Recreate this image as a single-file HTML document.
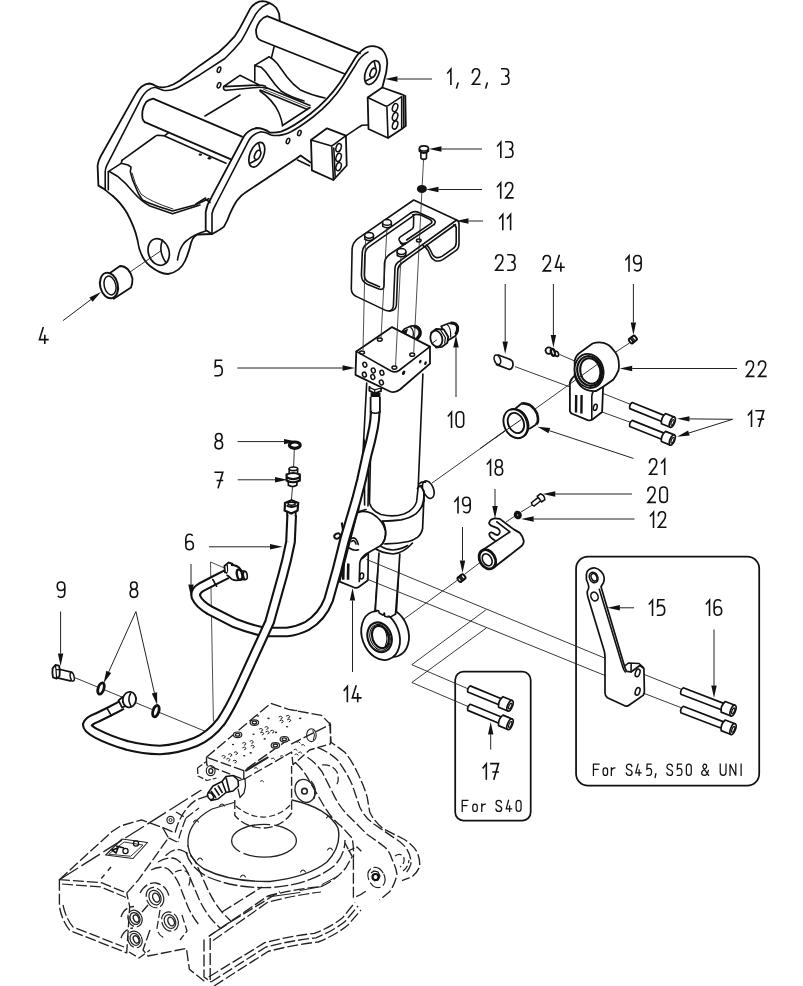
<!DOCTYPE html>
<html><head><meta charset="utf-8"><title>Parts diagram</title>
<style>
html,body{margin:0;padding:0;background:#fff;}
body{width:803px;height:986px;overflow:hidden;font-family:"Liberation Sans",sans-serif;}
svg{display:block;}
text{font-family:"Liberation Sans",sans-serif;fill:#111;}
</style></head><body>
<svg width="803" height="986" viewBox="0 0 803 986">
<rect width="803" height="986" fill="#fff"/>
<g fill="none" stroke="#111" stroke-width="1.6" stroke-linecap="square" stroke-linejoin="miter"><path vector-effect="non-scaling-stroke" transform="translate(447.70,68.80) scale(0.840,0.906)" d="M0,4.6 L3.8,0.4 L3.8,17"/></g>
<g fill="none" stroke="#111" stroke-width="1.6" stroke-linecap="square" stroke-linejoin="miter"><path vector-effect="non-scaling-stroke" transform="translate(472.22,68.80) scale(0.840,0.906)" d="M0.2,4.2 Q0.4,0 4.6,0 Q8.8,0 8.8,4.2 Q8.8,6.6 7,9 L0.4,17 L9,17"/></g>
<g fill="none" stroke="#111" stroke-width="1.6" stroke-linecap="square" stroke-linejoin="miter"><path vector-effect="non-scaling-stroke" transform="translate(501.42,68.80) scale(0.840,0.906)" d="M0.5,0 L4.6,0 Q8.6,0 8.6,4 Q8.6,8 4.2,8 Q9,8 9,12.6 Q9,17 4.6,17 L0.4,17"/></g>
<path d="M458.2,82.4 L456.4,88.6 M487.4,82.4 L485.6,88.6" stroke="#111" stroke-width="1.6" fill="none"/>
<g fill="none" stroke="#111" stroke-width="1.6" stroke-linecap="square" stroke-linejoin="miter"><path vector-effect="non-scaling-stroke" transform="translate(497.62,141.80) scale(0.840,0.906)" d="M0,4.6 L3.8,0.4 L3.8,17"/><path vector-effect="non-scaling-stroke" transform="translate(505.42,141.80) scale(0.840,0.906)" d="M0.5,0 L4.6,0 Q8.6,0 8.6,4 Q8.6,8 4.2,8 Q9,8 9,12.6 Q9,17 4.6,17 L0.4,17"/></g>
<g fill="none" stroke="#111" stroke-width="1.6" stroke-linecap="square" stroke-linejoin="miter"><path vector-effect="non-scaling-stroke" transform="translate(497.52,182.50) scale(0.840,0.906)" d="M0,4.6 L3.8,0.4 L3.8,17"/><path vector-effect="non-scaling-stroke" transform="translate(505.32,182.50) scale(0.840,0.906)" d="M0.2,4.2 Q0.4,0 4.6,0 Q8.8,0 8.8,4.2 Q8.8,6.6 7,9 L0.4,17 L9,17"/></g>
<g fill="none" stroke="#111" stroke-width="1.6" stroke-linecap="square" stroke-linejoin="miter"><path vector-effect="non-scaling-stroke" transform="translate(499.61,214.10) scale(0.840,0.906)" d="M0,4.6 L3.8,0.4 L3.8,17"/><path vector-effect="non-scaling-stroke" transform="translate(507.40,214.10) scale(0.840,0.906)" d="M0,4.6 L3.8,0.4 L3.8,17"/></g>
<g fill="none" stroke="#111" stroke-width="1.6" stroke-linecap="square" stroke-linejoin="miter"><path vector-effect="non-scaling-stroke" transform="translate(495.44,254.80) scale(0.840,0.906)" d="M0.2,4.2 Q0.4,0 4.6,0 Q8.8,0 8.8,4.2 Q8.8,6.6 7,9 L0.4,17 L9,17"/><path vector-effect="non-scaling-stroke" transform="translate(507.60,254.80) scale(0.840,0.906)" d="M0.5,0 L4.6,0 Q8.6,0 8.6,4 Q8.6,8 4.2,8 Q9,8 9,12.6 Q9,17 4.6,17 L0.4,17"/></g>
<g fill="none" stroke="#111" stroke-width="1.6" stroke-linecap="square" stroke-linejoin="miter"><path vector-effect="non-scaling-stroke" transform="translate(543.01,255.50) scale(0.840,0.906)" d="M0.2,4.2 Q0.4,0 4.6,0 Q8.8,0 8.8,4.2 Q8.8,6.6 7,9 L0.4,17 L9,17"/><path vector-effect="non-scaling-stroke" transform="translate(555.17,255.50) scale(0.840,0.906)" d="M4.8,0 L0.4,13 L10.5,13 M6.8,8.6 L6.8,17"/></g>
<g fill="none" stroke="#111" stroke-width="1.6" stroke-linecap="square" stroke-linejoin="miter"><path vector-effect="non-scaling-stroke" transform="translate(625.82,255.50) scale(0.840,0.906)" d="M0,4.6 L3.8,0.4 L3.8,17"/><path vector-effect="non-scaling-stroke" transform="translate(633.62,255.50) scale(0.840,0.906)" d="M1.4,16 Q2.4,17 4.4,17 Q9,17 9,11.6 L9,4.4 Q9,0 4.5,0 Q0,0 0,4.5 Q0,9.4 4.5,9.4 Q7.8,9.4 9,6.6"/></g>
<g fill="none" stroke="#111" stroke-width="1.6" stroke-linecap="square" stroke-linejoin="miter"><path vector-effect="non-scaling-stroke" transform="translate(746.14,361.00) scale(0.840,0.906)" d="M0.2,4.2 Q0.4,0 4.6,0 Q8.8,0 8.8,4.2 Q8.8,6.6 7,9 L0.4,17 L9,17"/><path vector-effect="non-scaling-stroke" transform="translate(758.30,361.00) scale(0.840,0.906)" d="M0.2,4.2 Q0.4,0 4.6,0 Q8.8,0 8.8,4.2 Q8.8,6.6 7,9 L0.4,17 L9,17"/></g>
<g fill="none" stroke="#111" stroke-width="1.6" stroke-linecap="square" stroke-linejoin="miter"><path vector-effect="non-scaling-stroke" transform="translate(748.32,410.80) scale(0.840,0.906)" d="M0,4.6 L3.8,0.4 L3.8,17"/><path vector-effect="non-scaling-stroke" transform="translate(756.12,410.80) scale(0.840,0.906)" d="M0,0 L9,0 L3.6,17 M2.6,9.2 L8.6,9.2"/></g>
<g fill="none" stroke="#111" stroke-width="1.6" stroke-linecap="square" stroke-linejoin="miter"><path vector-effect="non-scaling-stroke" transform="translate(649.32,458.80) scale(0.840,0.906)" d="M0.2,4.2 Q0.4,0 4.6,0 Q8.8,0 8.8,4.2 Q8.8,6.6 7,9 L0.4,17 L9,17"/><path vector-effect="non-scaling-stroke" transform="translate(661.48,458.80) scale(0.840,0.906)" d="M0,4.6 L3.8,0.4 L3.8,17"/></g>
<g fill="none" stroke="#111" stroke-width="1.6" stroke-linecap="square" stroke-linejoin="miter"><path vector-effect="non-scaling-stroke" transform="translate(448.32,411.80) scale(0.840,0.906)" d="M0,4.6 L3.8,0.4 L3.8,17"/><path vector-effect="non-scaling-stroke" transform="translate(456.12,411.80) scale(0.840,0.906)" d="M0,4.4 Q0,0 4.5,0 Q9,0 9,4.4 L9,12.6 Q9,17 4.5,17 Q0,17 0,12.6 Z"/></g>
<g fill="none" stroke="#111" stroke-width="1.6" stroke-linecap="square" stroke-linejoin="miter"><path vector-effect="non-scaling-stroke" transform="translate(214.72,360.30) scale(0.840,0.906)" d="M8,0 L0.9,0 L0.5,7.4 Q2,6.2 4.4,6.2 Q9,6.2 9,11.6 Q9,17 4.4,17 L0.6,17"/></g>
<g fill="none" stroke="#111" stroke-width="1.6" stroke-linecap="square" stroke-linejoin="miter"><path vector-effect="non-scaling-stroke" transform="translate(39.09,327.80) scale(0.840,0.906)" d="M4.8,0 L0.4,13 L10.5,13 M6.8,8.6 L6.8,17"/></g>
<g fill="none" stroke="#111" stroke-width="1.6" stroke-linecap="square" stroke-linejoin="miter"><path vector-effect="non-scaling-stroke" transform="translate(215.02,433.50) scale(0.840,0.906)" d="M4.5,0 Q0.6,0 0.6,4 Q0.6,8 4.5,8 Q8.4,8 8.4,4 Q8.4,0 4.5,0 Z M4.5,8 Q0,8 0,12.5 Q0,17 4.5,17 Q9,17 9,12.5 Q9,8 4.5,8 Z"/></g>
<g fill="none" stroke="#111" stroke-width="1.6" stroke-linecap="square" stroke-linejoin="miter"><path vector-effect="non-scaling-stroke" transform="translate(215.22,472.20) scale(0.840,0.906)" d="M0,0 L9,0 L3.6,17 M2.6,9.2 L8.6,9.2"/></g>
<g fill="none" stroke="#111" stroke-width="1.6" stroke-linecap="square" stroke-linejoin="miter"><path vector-effect="non-scaling-stroke" transform="translate(185.82,534.30) scale(0.840,0.906)" d="M7.6,1 Q6.6,0 4.6,0 Q0,0 0,5.4 L0,12.6 Q0,17 4.5,17 Q9,17 9,12.5 Q9,7.6 4.5,7.6 Q1.2,7.6 0,10.4"/></g>
<g fill="none" stroke="#111" stroke-width="1.6" stroke-linecap="square" stroke-linejoin="miter"><path vector-effect="non-scaling-stroke" transform="translate(57.22,582.00) scale(0.840,0.906)" d="M1.4,16 Q2.4,17 4.4,17 Q9,17 9,11.6 L9,4.4 Q9,0 4.5,0 Q0,0 0,4.5 Q0,9.4 4.5,9.4 Q7.8,9.4 9,6.6"/></g>
<g fill="none" stroke="#111" stroke-width="1.6" stroke-linecap="square" stroke-linejoin="miter"><path vector-effect="non-scaling-stroke" transform="translate(130.12,582.00) scale(0.840,0.906)" d="M4.5,0 Q0.6,0 0.6,4 Q0.6,8 4.5,8 Q8.4,8 8.4,4 Q8.4,0 4.5,0 Z M4.5,8 Q0,8 0,12.5 Q0,17 4.5,17 Q9,17 9,12.5 Q9,8 4.5,8 Z"/></g>
<g fill="none" stroke="#111" stroke-width="1.6" stroke-linecap="square" stroke-linejoin="miter"><path vector-effect="non-scaling-stroke" transform="translate(344.19,686.10) scale(0.840,0.906)" d="M0,4.6 L3.8,0.4 L3.8,17"/><path vector-effect="non-scaling-stroke" transform="translate(351.99,686.10) scale(0.840,0.906)" d="M4.8,0 L0.4,13 L10.5,13 M6.8,8.6 L6.8,17"/></g>
<g fill="none" stroke="#111" stroke-width="1.6" stroke-linecap="square" stroke-linejoin="miter"><path vector-effect="non-scaling-stroke" transform="translate(487.32,459.80) scale(0.840,0.906)" d="M0,4.6 L3.8,0.4 L3.8,17"/><path vector-effect="non-scaling-stroke" transform="translate(495.12,459.80) scale(0.840,0.906)" d="M4.5,0 Q0.6,0 0.6,4 Q0.6,8 4.5,8 Q8.4,8 8.4,4 Q8.4,0 4.5,0 Z M4.5,8 Q0,8 0,12.5 Q0,17 4.5,17 Q9,17 9,12.5 Q9,8 4.5,8 Z"/></g>
<g fill="none" stroke="#111" stroke-width="1.6" stroke-linecap="square" stroke-linejoin="miter"><path vector-effect="non-scaling-stroke" transform="translate(454.82,497.30) scale(0.840,0.906)" d="M0,4.6 L3.8,0.4 L3.8,17"/><path vector-effect="non-scaling-stroke" transform="translate(462.62,497.30) scale(0.840,0.906)" d="M1.4,16 Q2.4,17 4.4,17 Q9,17 9,11.6 L9,4.4 Q9,0 4.5,0 Q0,0 0,4.5 Q0,9.4 4.5,9.4 Q7.8,9.4 9,6.6"/></g>
<g fill="none" stroke="#111" stroke-width="1.6" stroke-linecap="square" stroke-linejoin="miter"><path vector-effect="non-scaling-stroke" transform="translate(647.64,487.00) scale(0.840,0.906)" d="M0.2,4.2 Q0.4,0 4.6,0 Q8.8,0 8.8,4.2 Q8.8,6.6 7,9 L0.4,17 L9,17"/><path vector-effect="non-scaling-stroke" transform="translate(659.80,487.00) scale(0.840,0.906)" d="M0,4.4 Q0,0 4.5,0 Q9,0 9,4.4 L9,12.6 Q9,17 4.5,17 Q0,17 0,12.6 Z"/></g>
<g fill="none" stroke="#111" stroke-width="1.6" stroke-linecap="square" stroke-linejoin="miter"><path vector-effect="non-scaling-stroke" transform="translate(650.32,511.80) scale(0.840,0.906)" d="M0,4.6 L3.8,0.4 L3.8,17"/><path vector-effect="non-scaling-stroke" transform="translate(658.12,511.80) scale(0.840,0.906)" d="M0.2,4.2 Q0.4,0 4.6,0 Q8.8,0 8.8,4.2 Q8.8,6.6 7,9 L0.4,17 L9,17"/></g>
<g fill="none" stroke="#111" stroke-width="1.6" stroke-linecap="square" stroke-linejoin="miter"><path vector-effect="non-scaling-stroke" transform="translate(649.32,599.80) scale(0.840,0.906)" d="M0,4.6 L3.8,0.4 L3.8,17"/><path vector-effect="non-scaling-stroke" transform="translate(657.12,599.80) scale(0.840,0.906)" d="M8,0 L0.9,0 L0.5,7.4 Q2,6.2 4.4,6.2 Q9,6.2 9,11.6 Q9,17 4.4,17 L0.6,17"/></g>
<g fill="none" stroke="#111" stroke-width="1.6" stroke-linecap="square" stroke-linejoin="miter"><path vector-effect="non-scaling-stroke" transform="translate(706.32,599.80) scale(0.840,0.906)" d="M0,4.6 L3.8,0.4 L3.8,17"/><path vector-effect="non-scaling-stroke" transform="translate(714.12,599.80) scale(0.840,0.906)" d="M7.6,1 Q6.6,0 4.6,0 Q0,0 0,5.4 L0,12.6 Q0,17 4.5,17 Q9,17 9,12.5 Q9,7.6 4.5,7.6 Q1.2,7.6 0,10.4"/></g>
<g fill="none" stroke="#111" stroke-width="1.6" stroke-linecap="square" stroke-linejoin="miter"><path vector-effect="non-scaling-stroke" transform="translate(483.12,763.60) scale(0.840,0.906)" d="M0,4.6 L3.8,0.4 L3.8,17"/><path vector-effect="non-scaling-stroke" transform="translate(490.92,763.60) scale(0.840,0.906)" d="M0,0 L9,0 L3.6,17 M2.6,9.2 L8.6,9.2"/></g>
<path d="M432.0,79.0 L397.5,79.0" fill="none" stroke="#222" stroke-width="1.0"/>
<path d="M385.0,79.0 L397.5,76.3 L397.5,81.7 Z" fill="#111"/>
<path d="M482.0,149.0 L441.5,149.0" fill="none" stroke="#222" stroke-width="1.0"/>
<path d="M429.0,149.0 L441.5,146.3 L441.5,151.7 Z" fill="#111"/>
<path d="M482.0,189.5 L438.5,189.5" fill="none" stroke="#222" stroke-width="1.0"/>
<path d="M426.0,189.5 L438.5,186.8 L438.5,192.2 Z" fill="#111"/>
<path d="M483.0,221.0 L468.5,221.0" fill="none" stroke="#222" stroke-width="1.0"/>
<path d="M456.0,221.0 L468.5,218.3 L468.5,223.7 Z" fill="#111"/>
<path d="M505.2,284.0 L505.2,341.5" fill="none" stroke="#222" stroke-width="1.0"/>
<path d="M505.2,354.0 L502.5,341.5 L507.9,341.5 Z" fill="#111"/>
<path d="M553.4,284.0 L553.4,335.0" fill="none" stroke="#222" stroke-width="1.0"/>
<path d="M553.4,347.5 L550.7,335.0 L556.1,335.0 Z" fill="#111"/>
<path d="M633.4,284.0 L633.4,322.5" fill="none" stroke="#222" stroke-width="1.0"/>
<path d="M633.4,335.0 L630.7,322.5 L636.1,322.5 Z" fill="#111"/>
<path d="M737.0,368.5 L632.2,368.5" fill="none" stroke="#222" stroke-width="1.0"/>
<path d="M619.7,368.5 L632.2,365.8 L632.2,371.2 Z" fill="#111"/>
<path d="M732.6,419.3 L689.5,418.9" fill="none" stroke="#222" stroke-width="1.0"/>
<path d="M677.0,418.8 L689.5,416.2 L689.5,421.6 Z" fill="#111"/>
<path d="M732.6,419.3 L688.9,433.0" fill="none" stroke="#222" stroke-width="1.0"/>
<path d="M677.0,436.8 L688.1,430.5 L689.7,435.6 Z" fill="#111"/>
<path d="M633.4,458.4 L549.4,430.7" fill="none" stroke="#222" stroke-width="1.0"/>
<path d="M537.5,426.8 L550.2,428.1 L548.5,433.3 Z" fill="#111"/>
<path d="M456.0,397.0 L456.0,347.5" fill="none" stroke="#222" stroke-width="1.0"/>
<path d="M456.0,335.0 L458.7,347.5 L453.3,347.5 Z" fill="#111"/>
<path d="M237.4,368.0 L342.5,368.0" fill="none" stroke="#222" stroke-width="1.0"/>
<path d="M355.0,368.0 L342.5,370.7 L342.5,365.3 Z" fill="#111"/>
<path d="M63.0,320.6 L91.0,299.5" fill="none" stroke="#222" stroke-width="1.0"/>
<path d="M101.0,292.0 L92.6,301.7 L89.4,297.4 Z" fill="#111"/>
<path d="M237.7,441.6 L284.0,441.6" fill="none" stroke="#222" stroke-width="1.0"/>
<path d="M296.5,441.6 L284.0,444.3 L284.0,438.9 Z" fill="#111"/>
<path d="M237.7,479.8 L275.0,479.8" fill="none" stroke="#222" stroke-width="1.0"/>
<path d="M287.5,479.8 L275.0,482.5 L275.0,477.1 Z" fill="#111"/>
<path d="M208.9,546.8 L270.0,546.8" fill="none" stroke="#222" stroke-width="1.0"/>
<path d="M282.5,546.8 L270.0,549.5 L270.0,544.1 Z" fill="#111"/>
<path d="M191.0,564.0 L191.0,584.5" fill="none" stroke="#222" stroke-width="1.0"/>
<path d="M191.0,597.0 L188.3,584.5 L193.7,584.5 Z" fill="#111"/>
<path d="M60.6,611.5 L60.6,653.5" fill="none" stroke="#222" stroke-width="1.0"/>
<path d="M60.6,666.0 L57.9,653.5 L63.3,653.5 Z" fill="#111"/>
<path d="M135.9,611.5 L108.7,671.9" fill="none" stroke="#222" stroke-width="1.0"/>
<path d="M103.6,683.3 L106.3,670.8 L111.2,673.0 Z" fill="#111"/>
<path d="M135.9,611.5 L154.4,692.9" fill="none" stroke="#222" stroke-width="1.0"/>
<path d="M157.2,705.1 L151.8,693.5 L157.1,692.3 Z" fill="#111"/>
<path d="M352.5,672.0 L352.5,600.5" fill="none" stroke="#222" stroke-width="1.0"/>
<path d="M352.5,588.0 L355.2,600.5 L349.8,600.5 Z" fill="#111"/>
<path d="M495.0,489.0 L495.0,506.1" fill="none" stroke="#222" stroke-width="1.0"/>
<path d="M495.0,518.6 L492.3,506.1 L497.7,506.1 Z" fill="#111"/>
<path d="M462.5,527.0 L462.5,560.5" fill="none" stroke="#222" stroke-width="1.0"/>
<path d="M462.5,573.0 L459.8,560.5 L465.2,560.5 Z" fill="#111"/>
<path d="M632.0,494.0 L555.3,494.0" fill="none" stroke="#222" stroke-width="1.0"/>
<path d="M542.8,494.0 L555.3,491.3 L555.3,496.7 Z" fill="#111"/>
<path d="M634.5,519.0 L533.7,519.0" fill="none" stroke="#222" stroke-width="1.0"/>
<path d="M521.2,519.0 L533.7,516.3 L533.7,521.7 Z" fill="#111"/>
<path d="M634.0,607.8 L619.9,607.8" fill="none" stroke="#222" stroke-width="1.0"/>
<path d="M607.4,607.8 L619.9,605.1 L619.9,610.5 Z" fill="#111"/>
<path d="M714.0,629.5 L714.0,685.5" fill="none" stroke="#222" stroke-width="1.0"/>
<path d="M714.0,698.0 L711.3,685.5 L716.7,685.5 Z" fill="#111"/>
<path d="M490.7,749.6 L490.7,734.5" fill="none" stroke="#222" stroke-width="1.0"/>
<path d="M490.7,722.0 L493.4,734.5 L488.0,734.5 Z" fill="#111"/>
<rect x="576.06" y="556.7" width="183.15" height="228.95" rx="12" ry="12" fill="none" stroke="#111" stroke-width="1.75"/>
<rect x="455.2" y="671.7" width="75.5" height="148.8" rx="8.2" ry="8.2" fill="none" stroke="#111" stroke-width="1.75"/>
<g fill="none" stroke="#111" stroke-width="1.25" stroke-linecap="square" stroke-linejoin="miter"><path vector-effect="non-scaling-stroke" transform="translate(593.42,764.23) scale(0.656,0.656)" d="M0,17 L0,0 L8.6,0 M0,8 L7,8"/><path vector-effect="non-scaling-stroke" transform="translate(603.12,764.23) scale(0.656,0.656)" d="M3.4,5.6 Q0,5.6 0,9.4 L0,13.2 Q0,17 3.4,17 Q6.8,17 6.8,13.2 L6.8,9.4 Q6.8,5.6 3.4,5.6 Z"/><path vector-effect="non-scaling-stroke" transform="translate(611.33,764.23) scale(0.656,0.656)" d="M0,5.4 L0,17 M0,10 Q1.2,5.6 5.4,5.6"/><path vector-effect="non-scaling-stroke" transform="translate(626.33,764.23) scale(0.656,0.656)" d="M8.4,3.4 Q8,0 4.4,0 Q0.2,0 0.2,4.2 Q0.2,7.2 4.4,8.4 Q8.8,9.8 8.8,12.8 Q8.8,17 4.4,17 Q0.4,17 0,13.4"/><path vector-effect="non-scaling-stroke" transform="translate(635.52,764.23) scale(0.525,0.656)" d="M4.8,0 L0.4,13 L10.5,13 M6.8,8.6 L6.8,17"/><path vector-effect="non-scaling-stroke" transform="translate(646.62,764.23) scale(0.551,0.656)" d="M8,0 L0.9,0 L0.5,7.4 Q2,6.2 4.4,6.2 Q9,6.2 9,11.6 Q9,17 4.4,17 L0.6,17"/><path vector-effect="non-scaling-stroke" transform="translate(654.23,764.23) scale(0.551,0.656)" d="M3,14.6 L1.6,20.4"/><path vector-effect="non-scaling-stroke" transform="translate(666.83,764.23) scale(0.656,0.656)" d="M8.4,3.4 Q8,0 4.4,0 Q0.2,0 0.2,4.2 Q0.2,7.2 4.4,8.4 Q8.8,9.8 8.8,12.8 Q8.8,17 4.4,17 Q0.4,17 0,13.4"/><path vector-effect="non-scaling-stroke" transform="translate(677.02,764.23) scale(0.551,0.656)" d="M8,0 L0.9,0 L0.5,7.4 Q2,6.2 4.4,6.2 Q9,6.2 9,11.6 Q9,17 4.4,17 L0.6,17"/><path vector-effect="non-scaling-stroke" transform="translate(686.33,764.23) scale(0.551,0.656)" d="M0,4.4 Q0,0 4.5,0 Q9,0 9,4.4 L9,12.6 Q9,17 4.5,17 Q0,17 0,12.6 Z"/><path vector-effect="non-scaling-stroke" transform="translate(701.62,764.23) scale(0.656,0.656)" d="M10.6,17 L2.6,5.6 Q1.4,3.4 2.4,1.6 Q3.4,0 5.2,0 Q7.8,0.2 7.8,3 Q7.8,5.4 4.6,7.6 Q0,10.4 0,13.4 Q0.2,17 4.4,17 Q8.6,16.6 10.2,9.6"/><path vector-effect="non-scaling-stroke" transform="translate(720.23,764.23) scale(0.656,0.656)" d="M0,0 L0,12.4 Q0,17 4.4,17 Q8.8,17 8.8,12.4 L8.8,0"/><path vector-effect="non-scaling-stroke" transform="translate(730.02,764.23) scale(0.656,0.656)" d="M0,17 L0,0 L8.8,17 L8.8,0"/><path vector-effect="non-scaling-stroke" transform="translate(741.12,764.23) scale(0.656,0.656)" d="M0,0 L0,17"/></g>
<g fill="none" stroke="#111" stroke-width="1.25" stroke-linecap="square" stroke-linejoin="miter"><path vector-effect="non-scaling-stroke" transform="translate(462.23,800.33) scale(0.656,0.656)" d="M0,17 L0,0 L8.6,0 M0,8 L7,8"/><path vector-effect="non-scaling-stroke" transform="translate(472.82,800.33) scale(0.656,0.656)" d="M3.4,5.6 Q0,5.6 0,9.4 L0,13.2 Q0,17 3.4,17 Q6.8,17 6.8,13.2 L6.8,9.4 Q6.8,5.6 3.4,5.6 Z"/><path vector-effect="non-scaling-stroke" transform="translate(481.73,800.33) scale(0.656,0.656)" d="M0,5.4 L0,17 M0,10 Q1.2,5.6 5.4,5.6"/><path vector-effect="non-scaling-stroke" transform="translate(495.93,800.33) scale(0.656,0.656)" d="M8.4,3.4 Q8,0 4.4,0 Q0.2,0 0.2,4.2 Q0.2,7.2 4.4,8.4 Q8.8,9.8 8.8,12.8 Q8.8,17 4.4,17 Q0.4,17 0,13.4"/><path vector-effect="non-scaling-stroke" transform="translate(506.02,800.33) scale(0.525,0.656)" d="M4.8,0 L0.4,13 L10.5,13 M6.8,8.6 L6.8,17"/><path vector-effect="non-scaling-stroke" transform="translate(516.12,800.33) scale(0.551,0.656)" d="M0,4.4 Q0,0 4.5,0 Q9,0 9,4.4 L9,12.6 Q9,17 4.5,17 Q0,17 0,12.6 Z"/></g>
<path d="M188,846 Q186,823 212,809 L234,802.5" fill="none" stroke="#222" stroke-width="1.3" stroke-linejoin="round" stroke-linecap="round"/>
<path d="M292,800 Q328,808 338,828 Q342,846 327,862 Q308,877 270,881.5 Q230,882 204,869 Q190,860 188,846" fill="none" stroke="#222" stroke-width="1.4" stroke-linejoin="round" stroke-linecap="round"/>
<path d="M186,852 Q190,868 208,877 Q236,889 272,887.5 Q312,884 334,866 Q345,855 345,840" fill="none" stroke="#222" stroke-width="1.3499999999999999" stroke-dasharray="14 3" stroke-linejoin="round"/>
<ellipse cx="264" cy="840.7" rx="32.4" ry="16.4" fill="none" stroke="#222" stroke-width="1.3" stroke-dasharray="60 4"/>
<path d="M193.5,822 q2.5,-4 5,0" fill="none" stroke="#222" stroke-width="1.1" stroke-linejoin="round" stroke-linecap="round"/>
<path d="M197.5,860 q2.5,-4 5,0" fill="none" stroke="#222" stroke-width="1.1" stroke-linejoin="round" stroke-linecap="round"/>
<path d="M240.5,877 q2.5,-4 5,0" fill="none" stroke="#222" stroke-width="1.1" stroke-linejoin="round" stroke-linecap="round"/>
<path d="M300.5,872 q2.5,-4 5,0" fill="none" stroke="#222" stroke-width="1.1" stroke-linejoin="round" stroke-linecap="round"/>
<path d="M327.5,850 q2.5,-4 5,0" fill="none" stroke="#222" stroke-width="1.1" stroke-linejoin="round" stroke-linecap="round"/>
<path d="M326.5,818 q2.5,-4 5,0" fill="none" stroke="#222" stroke-width="1.1" stroke-linejoin="round" stroke-linecap="round"/>
<path d="M219.5,806 q2.5,-4 5,0" fill="none" stroke="#222" stroke-width="1.1" stroke-linejoin="round" stroke-linecap="round"/>
<path d="M234.8,800 L234.8,815.5 Q246,828 264,828 Q282,827 291.6,813 L291.6,766" fill="none" stroke="#222" stroke-width="1.3499999999999999" stroke-dasharray="9 3" stroke-linejoin="round"/>
<path d="M236,806 Q250,818 266,817 Q282,815 291,804" fill="none" stroke="#222" stroke-width="1.15" stroke-dasharray="6 3" stroke-linejoin="round"/>
<path d="M206.4,757.2 L264,709 L270.7,703.4 L288.6,709.4 L321.5,715.4 L330.5,724.4 L291.6,743.8 L288.6,739.3 L243.8,770.7 Z" fill="none" stroke="#222" stroke-width="1.3499999999999999" stroke-dasharray="11 3" stroke-linejoin="round"/>
<path d="M206.4,757.2 L206.8,765 L243.8,779.5 L243.8,770.7 M243.8,779.5 L291.6,752 L293,765 M330.5,724.4 L330.5,743.8 L309.5,750 L293,764.7" fill="none" stroke="#222" stroke-width="1.3499999999999999" stroke-dasharray="9 3" stroke-linejoin="round"/>
<path d="M197.5,768 L198,776 L207,780.5 L216.5,778 M197.5,768 L206.4,761.5" fill="none" stroke="#222" stroke-width="1.25" stroke-dasharray="6 2" stroke-linejoin="round"/>
<path d="M206.3,770.7 a4.4,5 0 1,0 8.8,0 a4.4,5 0 1,0 -8.8,0" fill="none" stroke="#222" stroke-width="1.2" stroke-linejoin="round" stroke-linecap="round"/>
<path d="M208.8,771 a2,2.4 0 1,0 4,0 a2,2.4 0 1,0 -4,0" fill="none" stroke="#222" stroke-width="1.4" stroke-linejoin="round" stroke-linecap="round"/>
<path d="M306.6,735.2 a4.8,6.4 0 1,0 9.6,0 a4.8,6.4 0 1,0 -9.6,0" fill="none" stroke="#222" stroke-width="1.1" stroke-linejoin="round" stroke-linecap="round"/>
<path d="M313,730.5 q3,4 0.5,9.5" fill="none" stroke="#222" stroke-width="1.0" stroke-linejoin="round" stroke-linecap="round"/>
<path d="M246,770.5 L267.5,757.6" fill="none" stroke="#222" stroke-width="2.2" stroke-linejoin="round" stroke-linecap="round"/>
<path d="M279.0,716.8 q2,-1.6 3.4,0.6 q0,1.4 -1.6,1.6" fill="none" stroke="#222" stroke-width="1.0" stroke-linejoin="round" stroke-linecap="round"/>
<path d="M286.4,715.9 q2,-1.6 3.4,0.6 q0,1.4 -1.6,1.6" fill="none" stroke="#222" stroke-width="1.0" stroke-linejoin="round" stroke-linecap="round"/>
<path d="M279.9,720.6 q2,-1.6 3.4,0.6 q0,1.4 -1.6,1.6" fill="none" stroke="#222" stroke-width="1.0" stroke-linejoin="round" stroke-linecap="round"/>
<path d="M287.4,719.6 q2,-1.6 3.4,0.6 q0,1.4 -1.6,1.6" fill="none" stroke="#222" stroke-width="1.0" stroke-linejoin="round" stroke-linecap="round"/>
<path d="M259.4,729.0 q2,-1.6 3.4,0.6 q0,1.4 -1.6,1.6" fill="none" stroke="#222" stroke-width="1.0" stroke-linejoin="round" stroke-linecap="round"/>
<path d="M265.0,727.1 q2,-1.6 3.4,0.6 q0,1.4 -1.6,1.6" fill="none" stroke="#222" stroke-width="1.0" stroke-linejoin="round" stroke-linecap="round"/>
<path d="M260.4,732.6999999999999 q2,-1.6 3.4,0.6 q0,1.4 -1.6,1.6" fill="none" stroke="#222" stroke-width="1.0" stroke-linejoin="round" stroke-linecap="round"/>
<path d="M265.9,731.8 q2,-1.6 3.4,0.6 q0,1.4 -1.6,1.6" fill="none" stroke="#222" stroke-width="1.0" stroke-linejoin="round" stroke-linecap="round"/>
<path d="M270.59999999999997,730.8 q2,-1.6 3.4,0.6 q0,1.4 -1.6,1.6" fill="none" stroke="#222" stroke-width="1.0" stroke-linejoin="round" stroke-linecap="round"/>
<path d="M242.6,743.0 q2,-1.6 3.4,0.6 q0,1.4 -1.6,1.6" fill="none" stroke="#222" stroke-width="1.0" stroke-linejoin="round" stroke-linecap="round"/>
<path d="M250.0,741.1 q2,-1.6 3.4,0.6 q0,1.4 -1.6,1.6" fill="none" stroke="#222" stroke-width="1.0" stroke-linejoin="round" stroke-linecap="round"/>
<path d="M242.6,747.6 q2,-1.6 3.4,0.6 q0,1.4 -1.6,1.6" fill="none" stroke="#222" stroke-width="1.0" stroke-linejoin="round" stroke-linecap="round"/>
<path d="M251.0,745.8 q2,-1.6 3.4,0.6 q0,1.4 -1.6,1.6" fill="none" stroke="#222" stroke-width="1.0" stroke-linejoin="round" stroke-linecap="round"/>
<path d="M222.0,756.0 q2,-1.6 3.4,0.6 q0,1.4 -1.6,1.6" fill="none" stroke="#222" stroke-width="1.0" stroke-linejoin="round" stroke-linecap="round"/>
<path d="M228.6,754.1999999999999 q2,-1.6 3.4,0.6 q0,1.4 -1.6,1.6" fill="none" stroke="#222" stroke-width="1.0" stroke-linejoin="round" stroke-linecap="round"/>
<path d="M234.20000000000002,752.3 q2,-1.6 3.4,0.6 q0,1.4 -1.6,1.6" fill="none" stroke="#222" stroke-width="1.0" stroke-linejoin="round" stroke-linecap="round"/>
<path d="M226.70000000000002,758.9 q2,-1.6 3.4,0.6 q0,1.4 -1.6,1.6" fill="none" stroke="#222" stroke-width="1.0" stroke-linejoin="round" stroke-linecap="round"/>
<path d="M233.20000000000002,760.6999999999999 q2,-1.6 3.4,0.6 q0,1.4 -1.6,1.6" fill="none" stroke="#222" stroke-width="1.0" stroke-linejoin="round" stroke-linecap="round"/>
<ellipse cx="268.5" cy="718.4" rx="1.2" ry="0.8" fill="#222"/>
<ellipse cx="264.7" cy="738.9" rx="1.2" ry="0.8" fill="#222"/>
<ellipse cx="253.5" cy="734.2" rx="1.2" ry="0.8" fill="#222"/>
<ellipse cx="287.1" cy="726.8" rx="1.2" ry="0.8" fill="#222"/>
<ellipse cx="300.2" cy="718.4" rx="1.2" ry="0.8" fill="#222"/>
<ellipse cx="233" cy="744.5" rx="1.2" ry="0.8" fill="#222"/>
<ellipse cx="244.2" cy="755.7" rx="1.2" ry="0.8" fill="#222"/>
<ellipse cx="250.7" cy="752.9" rx="1.2" ry="0.8" fill="#222"/>
<ellipse cx="276" cy="732.4" rx="1.2" ry="0.8" fill="#222"/>
<ellipse cx="296" cy="710.5" rx="1.2" ry="0.8" fill="#222"/>
<ellipse cx="258" cy="716" rx="1.2" ry="0.8" fill="#222"/>
<ellipse cx="254.4" cy="722.6" rx="4.2" ry="2.8" fill="#fff" stroke="#222" stroke-width="1.2"/>
<ellipse cx="254.4" cy="722.6" rx="2.2" ry="1.4" fill="none" stroke="#222" stroke-width="1.3"/>
<ellipse cx="237.6" cy="734.8" rx="4.2" ry="2.8" fill="#fff" stroke="#222" stroke-width="1.2"/>
<ellipse cx="237.6" cy="734.8" rx="2.2" ry="1.4" fill="none" stroke="#222" stroke-width="1.3"/>
<ellipse cx="284.3" cy="739.3" rx="4.2" ry="2.8" fill="#fff" stroke="#222" stroke-width="1.2"/>
<ellipse cx="284.3" cy="739.3" rx="2.2" ry="1.4" fill="none" stroke="#222" stroke-width="1.3"/>
<ellipse cx="275.4" cy="745.4" rx="4.2" ry="2.8" fill="#fff" stroke="#222" stroke-width="1.2"/>
<ellipse cx="275.4" cy="745.4" rx="2.2" ry="1.4" fill="none" stroke="#222" stroke-width="1.3"/>
<path d="M296.9,742.1 q2,-1.5 3.2,0.8" fill="none" stroke="#222" stroke-width="1.0" stroke-linejoin="round" stroke-linecap="round"/>
<path d="M301.5,744.9 q2,-1.5 3.2,0.8" fill="none" stroke="#222" stroke-width="1.0" stroke-linejoin="round" stroke-linecap="round"/>
<path d="M294.0,749.6 q2,-1.5 3.2,0.8" fill="none" stroke="#222" stroke-width="1.0" stroke-linejoin="round" stroke-linecap="round"/>
<path d="M298.7,752.4 q2,-1.5 3.2,0.8" fill="none" stroke="#222" stroke-width="1.0" stroke-linejoin="round" stroke-linecap="round"/>
<path d="M295.0,754.3 q2,-1.5 3.2,0.8" fill="none" stroke="#222" stroke-width="1.0" stroke-linejoin="round" stroke-linecap="round"/>
<path d="M271.5,758.5 q2,-1.5 3.2,0.8" fill="none" stroke="#222" stroke-width="1.0" stroke-linejoin="round" stroke-linecap="round"/>
<path d="M280.5,756.0 q2,-1.5 3.2,0.8" fill="none" stroke="#222" stroke-width="1.0" stroke-linejoin="round" stroke-linecap="round"/>
<path d="M254.5,768.0 q2,-1.5 3.2,0.8" fill="none" stroke="#222" stroke-width="1.0" stroke-linejoin="round" stroke-linecap="round"/>
<path d="M260.5,781.0 q2,-1.5 3.2,0.8" fill="none" stroke="#222" stroke-width="1.0" stroke-linejoin="round" stroke-linecap="round"/>
<path d="M208,793 L213,786 L222,781.5 L226,776.5 L233,775.5 L238,780 L238.5,786 L233,791 L226,792.5 L218,799 L211,800.5 Z" fill="#fff" stroke="#111" stroke-width="1.6" stroke-linejoin="round"/>
<path d="M211,791 L216,798 M214.5,788 L219.5,795.5 M218,785.5 L222.5,793 M226,777.5 L229.5,791.5 M222,781.5 L226,792" stroke="#111" stroke-width="1.6" fill="none"/>
<ellipse cx="210.5" cy="796.2" rx="2.6" ry="3.6" transform="rotate(-35 210.5 796.2)" fill="#fff" stroke="#111" stroke-width="1.5"/>
<path d="M238,781 L245,778.5 L245.5,786 L244,793 L240,797.5 L238,789" fill="none" stroke="#222" stroke-width="1.2" stroke-linejoin="round" stroke-linecap="round"/>
<path d="M329.8,722.4 L331,742.3 Q338,747 344.8,752.3 Q352,761 357.2,772.2 Q364,786 367.2,797.1 L369.7,812 Q375,823 384.6,829.5 L404.5,839.5 Q413,845 417,852 Q420.5,860 419.5,866.9 Q417,873 412,876.8 L402,880.6" fill="none" stroke="#222" stroke-width="1.3499999999999999" stroke-dasharray="11 3" stroke-linejoin="round"/>
<path d="M317.4,747.3 Q329,752 337.3,759.8 Q346,771 352.2,784.7 L359.7,807 Q365,818 374.6,824.5 L394.6,838.2 Q403,843 407,849.4 Q411.5,857 410.8,864.4 Q409,870 404.5,874.3" fill="none" stroke="#222" stroke-width="1.3499999999999999" stroke-dasharray="11 3" stroke-linejoin="round"/>
<path d="M307.4,757.3 Q316,763 322.3,772.2 L334.8,797.1 Q341,809 349.7,817 L367.2,834.5 Q377,841 384.6,847 Q390,852 392,859.4 Q396,867 397,874.3 Q395,884 389.6,891.8 L379.6,900" fill="none" stroke="#222" stroke-width="1.3499999999999999" stroke-dasharray="11 3" stroke-linejoin="round"/>
<path d="M295,762.3 Q304,770 310,782 L324,806 Q331,818 341,826 L352,838 Q354,846 353.4,858.7" fill="none" stroke="#222" stroke-width="1.3499999999999999" stroke-dasharray="11 3" stroke-linejoin="round"/>
<path d="M322,765 Q332,764 337,772 Q340,780 336,786" fill="none" stroke="#222" stroke-width="1.25" stroke-dasharray="8 3" stroke-linejoin="round"/>
<path d="M395,856 Q401,852 404,858 Q405,864 400,867 M403,871 Q408,868 409,860" fill="none" stroke="#222" stroke-width="1.25" stroke-dasharray="7 3" stroke-linejoin="round"/>
<ellipse cx="304.9" cy="790.9" rx="9.6" ry="11.8" transform="rotate(-25 304.9 790.9)" fill="none" stroke="#222" stroke-width="1.3"/>
<path d="M311,781 Q318,788 314,799" fill="none" stroke="#222" stroke-width="1.1"/>
<circle cx="304.5" cy="791.2" r="2.8" fill="none" stroke="#222" stroke-width="1.6"/>
<ellipse cx="376.5" cy="877.5" rx="8" ry="10.5" transform="rotate(-25 376.5 877.5)" fill="none" stroke="#222" stroke-width="1.2" stroke-dasharray="12 3"/>
<circle cx="375.5" cy="877" r="3" fill="#fff" stroke="#111" stroke-width="2.2"/>
<path d="M371,873 l3,-2 l4,1 l2,4 l-2,4 l-4,1" fill="none" stroke="#111" stroke-width="1.2"/>
<path d="M345,843 L353,858 M348,851 L357,847 L362,852" fill="none" stroke="#222" stroke-width="1.3499999999999999" stroke-dasharray="7 2" stroke-linejoin="round"/>
<path d="M208.7,936.5 L267.8,896 Q295,889 320.8,886.7 Q336,880 345.7,868 L351.9,857.1" fill="none" stroke="#222" stroke-width="1.3499999999999999" stroke-dasharray="11 3" stroke-linejoin="round"/>
<path d="M213,940.5 L268,902 Q296,895 321,892" fill="none" stroke="#222" stroke-width="1.25" stroke-dasharray="11 3" stroke-linejoin="round"/>
<path d="M353.4,858.7 L353.4,897.6 Q360,896 367.5,890" fill="none" stroke="#222" stroke-width="1.3499999999999999" stroke-dasharray="11 3" stroke-linejoin="round"/>
<path d="M208.7,977 L264.7,942.7 Q290,936 314.5,933.4 Q331,927 342.6,917.8 L355,902.3" fill="none" stroke="#222" stroke-width="1.3499999999999999" stroke-dasharray="11 3" stroke-linejoin="round"/>
<path d="M211,982 L266,947 Q291,940.5 316,937.8 Q333,931 345,921.5 L358,906" fill="none" stroke="#222" stroke-width="1.3499999999999999" stroke-dasharray="11 3" stroke-linejoin="round"/>
<path d="M214,986 L268,951.5 Q292,945 318,942 Q336,935 348,925 L361,910" fill="none" stroke="#222" stroke-width="1.3499999999999999" stroke-dasharray="11 3" stroke-linejoin="round"/>
<path d="M204,939.6 L204,977 L211,982 M210.2,938 L210.2,981" fill="none" stroke="#222" stroke-width="1.3499999999999999" stroke-dasharray="12 3" stroke-linejoin="round"/>
<path d="M268,897 L300,892.5 M300,890.5 L322,886.5 M322,884.5 L338,876" fill="none" stroke="#222" stroke-width="1.0" stroke-linejoin="round" stroke-linecap="round"/>
<path d="M165.5,855.7 Q173,848 180.5,849.8 Q190,853 195.4,861.7 L207.4,888.6 Q214,903 222.3,912.5 L231.3,921.5 L209,936" fill="none" stroke="#222" stroke-width="1.3499999999999999" stroke-dasharray="11 3" stroke-linejoin="round"/>
<path d="M158,862 Q168,856 176,859 Q184,864 188,873 L199,899 Q205,912 213,921 L220,928" fill="none" stroke="#222" stroke-width="1.3499999999999999" stroke-dasharray="11 3" stroke-linejoin="round"/>
<path d="M151,870 Q160,865 168,869 Q175,875 179,884 L188,907 Q193,918 200,926" fill="none" stroke="#222" stroke-width="1.3499999999999999" stroke-dasharray="11 3" stroke-linejoin="round"/>
<path d="M175,872 Q183,868 188,873 Q192,880 188,887" fill="none" stroke="#222" stroke-width="1.25" stroke-dasharray="7 3" stroke-linejoin="round"/>
<path d="M231.3,921.5 L280,891.6 M222,912 L262,887" fill="none" stroke="#222" stroke-width="1.3499999999999999" stroke-dasharray="11 3" stroke-linejoin="round"/>
<path d="M59.4,879.7 L111.7,831.8 L120.7,825.9 L141.6,819.9 L162.5,827.4 L168.5,837.8 L138.6,879.7 L126.7,893.1 L101.3,882.6 Z" fill="none" stroke="#222" stroke-width="1.3499999999999999" stroke-dasharray="11 3" stroke-linejoin="round"/>
<path d="M59.4,879.7 L201.4,790" fill="none" stroke="#222" stroke-width="1.3499999999999999" stroke-dasharray="22 4" stroke-linejoin="round"/>
<path d="M62,884 L101,887 L126,897.5" fill="none" stroke="#222" stroke-width="1.25" stroke-dasharray="11 3" stroke-linejoin="round"/>
<path d="M59.4,879.7 L59.4,906.6 Q62,921 69.9,930.5 L126.7,952.9 L129.7,906.6 L126.7,893.1" fill="none" stroke="#222" stroke-width="1.3499999999999999" stroke-dasharray="11 3" stroke-linejoin="round"/>
<path d="M63,905 Q66,919 73,927 L124,947" fill="none" stroke="#222" stroke-width="1.25" stroke-dasharray="11 3" stroke-linejoin="round"/>
<path d="M111,867 L100,880" fill="none" stroke="#222" stroke-width="1.45" stroke-dasharray="5 5" stroke-linejoin="round"/>
<path d="M162.5,827.4 L175,833 Q181,810 196,800 L210,795 M168.5,837.8 L177,842" fill="none" stroke="#222" stroke-width="1.3499999999999999" stroke-dasharray="11 3" stroke-linejoin="round"/>
<path d="M105.7,855 L122,839 L147.6,842.5 L133,858.5 Z" fill="none" stroke="#222" stroke-width="1.1" stroke-linejoin="round" stroke-linecap="round"/>
<path d="M109,854 L124,842 L143,845 L131,856 Z" fill="none" stroke="#222" stroke-width="0.9" stroke-linejoin="round" stroke-linecap="round"/>
<circle cx="125.5" cy="851" r="2.6" fill="none" stroke="#111" stroke-width="1.3"/><circle cx="136" cy="843.5" r="2.6" fill="none" stroke="#111" stroke-width="1.3"/>
<path d="M112,850 l6,-2 l-2,5 z M116,846 l8,2" stroke="#111" stroke-width="1.6" fill="none"/>
<ellipse cx="155" cy="897.6" rx="8.4" ry="10.5" transform="rotate(-25 155 897.6)" fill="none" stroke="#222" stroke-width="1.2" stroke-dasharray="14 3"/>
<ellipse cx="155" cy="897.6" rx="5.775" ry="7.56" transform="rotate(-25 155 897.6)" fill="none" stroke="#222" stroke-width="1.2"/>
<ellipse cx="156" cy="898.1" rx="3.15" ry="4.7250000000000005" transform="rotate(-25 155 897.6)" fill="none" stroke="#222" stroke-width="1.4"/>
<ellipse cx="135" cy="918.5" rx="6.88" ry="8.6" transform="rotate(-25 135 918.5)" fill="none" stroke="#222" stroke-width="1.2" stroke-dasharray="14 3"/>
<ellipse cx="135" cy="918.5" rx="4.73" ry="6.191999999999999" transform="rotate(-25 135 918.5)" fill="none" stroke="#222" stroke-width="1.2"/>
<ellipse cx="136" cy="919.0" rx="2.5799999999999996" ry="3.87" transform="rotate(-25 135 918.5)" fill="none" stroke="#222" stroke-width="1.4"/>
<ellipse cx="135" cy="939.4" rx="6.88" ry="8.6" transform="rotate(-25 135 939.4)" fill="none" stroke="#222" stroke-width="1.2" stroke-dasharray="14 3"/>
<ellipse cx="135" cy="939.4" rx="4.73" ry="6.191999999999999" transform="rotate(-25 135 939.4)" fill="none" stroke="#222" stroke-width="1.2"/>
<ellipse cx="136" cy="939.9" rx="2.5799999999999996" ry="3.87" transform="rotate(-25 135 939.4)" fill="none" stroke="#222" stroke-width="1.4"/>
<ellipse cx="170" cy="921.5" rx="8.0" ry="10" transform="rotate(-25 170 921.5)" fill="none" stroke="#222" stroke-width="1.2" stroke-dasharray="14 3"/>
<ellipse cx="170" cy="921.5" rx="5.5" ry="7.199999999999999" transform="rotate(-25 170 921.5)" fill="none" stroke="#222" stroke-width="1.2"/>
<ellipse cx="171" cy="922.0" rx="3.0" ry="4.5" transform="rotate(-25 170 921.5)" fill="none" stroke="#222" stroke-width="1.4"/>
<path d="M140,893 Q146,882 156,883 Q166,885 169,896 M121,917 Q124,907 134,906.5 M121,938 Q124,929 133,928 M148,905 L142,912 M150,930 L143,950 L148,956 L186.4,948.4 L189.4,969.3 L204.4,981.3" fill="none" stroke="#222" stroke-width="1.3499999999999999" stroke-dasharray="11 3" stroke-linejoin="round"/>
<path d="M129,952 L139,958 L150,950 M160,910 L157,928 Q158,936 165,938 M182,915 L187,931 L180,940" fill="none" stroke="#222" stroke-width="1.25" stroke-dasharray="8 3" stroke-linejoin="round"/>
<circle cx="170.5" cy="820" r="3.6" fill="none" stroke="#222" stroke-width="1.2"/><circle cx="170.5" cy="820" r="1.5" fill="none" stroke="#222" stroke-width="1"/>
<path d="M176,812 L186,818 Q180,833 178,842 M186,818 L199,808" fill="none" stroke="#222" stroke-width="1.25" stroke-dasharray="9 3" stroke-linejoin="round"/>
<path d="M105.2,189.6 L98.4,185.6 L97.6,165.6 Q98.3,160.5 100.6,156.5 L135.6,94.1 Q138.5,89 141.7,86.5 Q145.5,83.8 149.3,83.5 Q152.5,84 155.4,85.7 Q159,87.4 163,87.3 Q168.5,86.8 173.7,84.2 Q180,81 186,76 L200,65.4 L218.7,52.3 Q227,45 234.9,36.1 Q239.5,29.5 243.6,21.2 L249.8,9.3 Q252.5,5 256,3.1 Q259,1.4 262.3,1.2 Q266,1.4 269.7,3.1 Q273.5,4.8 276,7.5 Q278,10.5 279.1,13.7 L279.8,21" fill="none" stroke="#111" stroke-width="1.8" stroke-linejoin="round" stroke-linecap="round" />
<path d="M105.2,189.6 L105.2,171.7 Q105.5,168 106.7,165.6 L140.2,100.2 Q144,93 147.8,90.3 Q151.5,87.6 155.4,87.3 Q159,88.7 163,90.3 Q168,91 172.1,89.8 Q177,88.4 181.3,85.7 L200,74.7 L224.9,58.5 Q234,50 241.1,41.1 Q246,33 249.8,24.9 L256,13.7 Q259,9.5 262.3,6.8 Q265.5,4.6 269,3.4" fill="none" stroke="#111" stroke-width="1.6" stroke-linejoin="round" stroke-linecap="round" />
<path d="M108.3,171.7 L108.3,189.8" fill="none" stroke="#111" stroke-width="1.6" stroke-linejoin="round" stroke-linecap="round" />
<path d="M105.2,189.8 Q109,193 112.8,196" fill="none" stroke="#111" stroke-width="1.6" stroke-linejoin="round" stroke-linecap="round" />
<path d="M267.2,16.2 L360,53.3 M261,40.5 L345,74 M267.2,16.2 Q262.5,17.6 259.8,21.2 Q256.8,25.4 256,29.9 Q256,34 257.3,37.4 Q258.6,39.6 261,40.5" fill="none" stroke="#111" stroke-width="1.8" stroke-linejoin="round" stroke-linecap="round" />
<path d="M153.1,98.7 L242,136.7 M144.8,122.2 L231,159.4 M153.1,98.7 Q149.2,99.6 146.3,101.7 Q143.5,105.5 142.5,110.8 Q142,115 142.5,118.4 Q143.3,121 144.8,122.2" fill="none" stroke="#111" stroke-width="1.8" stroke-linejoin="round" stroke-linecap="round" />
<path d="M212,234 L205.7,230 L205.7,212 Q207,204 211.4,197.4 L243.8,136.5 Q248,130 256.8,128 Q263,128 269.8,132.5 Q275,133 281,131.7 Q292,128 310.4,113.8 Q328,100 340,82.5 L352.5,62.5 Q358,52 366,47.5 Q375,44 382,49.5 Q387,55 387.3,63 L386.3,72 L382.3,87.5" fill="none" stroke="#111" stroke-width="1.8" stroke-linejoin="round" stroke-linecap="round" />
<path d="M212,233.5 L212,213.6 Q213,209 216,204 L248.7,140.6 Q252,134 261,131.7 Q266,132 271,135 Q280,137 291,131.7 Q300,127 313,117 Q331,103 343,85 L355,66 Q361,55 368,52" fill="none" stroke="#111" stroke-width="1.6" stroke-linejoin="round" stroke-linecap="round" />
<path d="M212,234 Q220,230 224,226.6 Q228,220 230,213.6 Q234,205 237,200.6 Q241,195 245.5,192.5 L295.8,159 L300.6,155.5 L310.5,162.5" fill="none" stroke="#111" stroke-width="1.8" stroke-linejoin="round" stroke-linecap="round" />
<path d="M297.5,160 L309.5,165.8" fill="none" stroke="#111" stroke-width="1.6" stroke-linejoin="round" stroke-linecap="round" />
<path d="M345.9,135.8 L359.6,126.7 L362,125.2 L367.7,125" fill="none" stroke="#111" stroke-width="1.6" stroke-linejoin="round" stroke-linecap="round" />
<ellipse cx="256.8" cy="154.7" rx="6.8" ry="13" transform="rotate(22 256.8 154.7)" fill="none" stroke="#111" stroke-width="1.7"/>
<ellipse cx="257.6" cy="154.9" rx="2.7" ry="4.9" transform="rotate(24 257.6 154.9)" fill="none" stroke="#111" stroke-width="1.6"/>
<path d="M250.7,163 L256.2,160 M258.8,143.9 L260.2,150.2" fill="none" stroke="#111" stroke-width="1.6" stroke-linejoin="round" stroke-linecap="round" />
<ellipse cx="372.3" cy="72.6" rx="6.6" ry="12.6" transform="rotate(22 372.3 72.6)" fill="none" stroke="#111" stroke-width="1.7"/>
<ellipse cx="373.1" cy="72.8" rx="2.7" ry="4.8" transform="rotate(24 373.1 72.8)" fill="none" stroke="#111" stroke-width="1.6"/>
<path d="M366.2,80.8 L371.7,77.9 M374.3,61.9 L375.7,68.1" fill="none" stroke="#111" stroke-width="1.6" stroke-linejoin="round" stroke-linecap="round" />
<ellipse cx="288" cy="141" rx="1.6" ry="2.8" transform="rotate(20 288 141)" fill="none" stroke="#111" stroke-width="1.5"/>
<ellipse cx="299.4" cy="133" rx="1.6" ry="2.8" transform="rotate(20 299.4 133)" fill="none" stroke="#111" stroke-width="1.5"/>
<ellipse cx="219" cy="69.7" rx="1.6" ry="2.8" transform="rotate(20 219 69.7)" fill="none" stroke="#111" stroke-width="1.5"/>
<ellipse cx="219" cy="85.3" rx="1.6" ry="2.8" transform="rotate(20 219 85.3)" fill="none" stroke="#111" stroke-width="1.5"/>
<path d="M274.1,46.7 L271.6,57.3" fill="none" stroke="#111" stroke-width="1.6" stroke-linejoin="round" stroke-linecap="round" />
<path d="M254.8,65.4 L269.1,56.7 Q273.5,59 277.2,63.5 L287.2,77.2 Q293,84.5 300,89.7 Q311,95 325,98" fill="none" stroke="#111" stroke-width="1.6" stroke-linejoin="round" stroke-linecap="round" />
<path d="M254.8,65.4 L254.8,81 M254.8,65.4 L261,67.2 Q265.5,71 269.7,77.2 Q275,85 281,91 Q290,97 304,101" fill="none" stroke="#111" stroke-width="1.6" stroke-linejoin="round" stroke-linecap="round" />
<path d="M223.7,86.5 L239.9,75.3 L259.8,85.3 M223.7,86.5 Q223,88.8 224.5,89.9 Q225.5,90.6 226.8,90.3 L257.3,87.4 Q262,87 267.2,88.4 M223.9,86.6 L258.5,85 Q262.5,85 265.5,86.3" fill="none" stroke="#111" stroke-width="1.6" stroke-linejoin="round" stroke-linecap="round" />
<path d="M266,87.5 L310,105.5 M260,90 L307.5,109.5" fill="none" stroke="#111" stroke-width="1.6" stroke-linejoin="round" stroke-linecap="round" />
<path d="M263,89 L309,107.5" fill="none" stroke="#222" stroke-width="0.8" />
<path d="M205,116 L240,95 M260,91 Q273,100 278.5,112 Q282,120 282.5,126 M282.5,125.5 L310,107.5" fill="none" stroke="#111" stroke-width="1.6" stroke-linejoin="round" stroke-linecap="round" />
<path d="M121.9,160.3 L155,136.5 Q156.3,135.3 158.5,135.3 L164.5,135.9 L210,156.2 L226,163.2 M164.5,135.9 L168.3,132.9" fill="none" stroke="#111" stroke-width="1.6" stroke-linejoin="round" stroke-linecap="round" />
<path d="M108.3,171.7 L121.2,163.3 L121.9,160.3 M121.2,163.3 L128,165 L131.1,167.1 L130.3,171.7 Q132,180 135.6,186.9 Q138,194 142.5,200 Q150,204 172.5,211 L195,205 L208.7,198.7" fill="none" stroke="#111" stroke-width="1.6" stroke-linejoin="round" stroke-linecap="round" />
<path d="M132,173 Q134.5,184 141,194 Q150,201.5 173,209" fill="none" stroke="#111" stroke-width="0.9" stroke-linejoin="round" stroke-linecap="round" />
<path d="M109.8,171.7 L117.4,176.2 Q126,183 134.1,193 Q141,201 150,206 L172.5,213.7 L200,205" fill="none" stroke="#111" stroke-width="1.6" stroke-linejoin="round" stroke-linecap="round" />
<path d="M205,198.7 L210,202.5 M196,204 L205.5,198" fill="none" stroke="#111" stroke-width="1.6" stroke-linejoin="round" stroke-linecap="round" />
<ellipse cx="200.3" cy="154.6" rx="1.8" ry="1.2" fill="#111"/><ellipse cx="209.4" cy="158.3" rx="1.8" ry="1.2" fill="#111"/>
<path d="M112.8,196 Q121,203 127,213 Q135,228 137.5,240 Q140,258 150,266 Q160,274 168,274 Q180,272 185,261 Q189,252 191,243 Q193,236 198,234.5 L212,234" fill="none" stroke="#111" stroke-width="1.8" stroke-linejoin="round" stroke-linecap="round" />
<path d="M177.5,260 Q178.5,254 180,250 Q183,243 187.5,240 Q195,234 205.7,231" fill="none" stroke="#111" stroke-width="1.6" stroke-linejoin="round" stroke-linecap="round" />
<ellipse cx="158.7" cy="252" rx="10.3" ry="13.6" transform="rotate(-18 158.7 252)" fill="none" stroke="#111" stroke-width="1.7"/>
<path d="M162.5,240 Q158,251 165.5,262" fill="none" stroke="#111" stroke-width="1.6" stroke-linejoin="round" stroke-linecap="round" />
<path d="M367.7,97.5 L382.3,87.5 L401.7,94.3 L405.3,96 L405.8,125.9 L401.7,129 L388,138 L368.5,129 Z" fill="none" stroke="#111" stroke-width="1.8" stroke-linejoin="round" stroke-linecap="round" />
<path d="M367.7,97.5 L384.5,105.5 Q386.8,106.5 388.5,105.3 L401.7,96.7 L401.7,128.5 M386.9,107 L388,137.5" fill="none" stroke="#111" stroke-width="1.6" stroke-linejoin="round" stroke-linecap="round" />
<path d="M403.6,96 L403.9,127" fill="none" stroke="#111" stroke-width="1.6" stroke-linejoin="round" stroke-linecap="round" />
<ellipse cx="395.1" cy="107.6" rx="2.5" ry="4.2" transform="rotate(18 395.1 107.6)" fill="none" stroke="#111" stroke-width="1.5"/>
<ellipse cx="395.1" cy="116.6" rx="2.5" ry="4.2" transform="rotate(18 395.1 116.6)" fill="none" stroke="#111" stroke-width="1.5"/>
<ellipse cx="395.1" cy="125" rx="2.5" ry="4.2" transform="rotate(18 395.1 125)" fill="none" stroke="#111" stroke-width="1.5"/>
<path d="M311,140 L327,128.3 L345.9,135.6 L346.7,165.5 L333.4,180 L311.9,170.4 Z" fill="none" stroke="#111" stroke-width="1.8" stroke-linejoin="round" stroke-linecap="round" />
<path d="M311,140 L330,145.6 Q332,146 333.8,144.6 L345.9,135.6 M331.8,146 L333.4,180" fill="none" stroke="#111" stroke-width="1.6" stroke-linejoin="round" stroke-linecap="round" />
<path d="M333.8,148 L335.2,177.5" fill="none" stroke="#111" stroke-width="1.6" stroke-linejoin="round" stroke-linecap="round" />
<ellipse cx="338.6" cy="147.7" rx="2.5" ry="4.2" transform="rotate(18 338.6 147.7)" fill="none" stroke="#111" stroke-width="1.5"/>
<ellipse cx="338.6" cy="157.4" rx="2.5" ry="4.2" transform="rotate(18 338.6 157.4)" fill="none" stroke="#111" stroke-width="1.5"/>
<ellipse cx="338.6" cy="166.6" rx="2.5" ry="4.2" transform="rotate(18 338.6 166.6)" fill="none" stroke="#111" stroke-width="1.5"/>
<path d="M110,273 L120,266 Q129,266 132.5,278.7 Q132.5,284 131,287.5 L113.7,298.7" fill="none" stroke="#111" stroke-width="1.8" stroke-linejoin="round" stroke-linecap="round" />
<ellipse cx="109" cy="285.5" rx="8.8" ry="13" transform="rotate(-14 109 285.5)" fill="none" stroke="#111" stroke-width="2.0"/>
<ellipse cx="110" cy="285.5" rx="5.8" ry="9.6" transform="rotate(-14 110 285.5)" fill="none" stroke="#111" stroke-width="1.5"/>
<path d="M130,272 L162,250" fill="none" stroke="#222" stroke-width="0.9" />
<path d="M413.7,200 L456.6,220 M413.7,200 L357.8,238.6 Q352.6,242.6 352.1,249 L351.3,288.8 Q351.5,294.4 356.2,296.4 L386.1,310.6 Q392.8,312.4 393.4,305.7 L395,267.7 Q395.5,263.2 400.2,260.7 L456.6,220" fill="none" stroke="#111" stroke-width="1.6" stroke-linejoin="round" stroke-linecap="round" />
<path d="M389.5,311 Q395.8,311 396.4,305 L397.8,269.7 Q398.3,265.5 402,263 L455.5,224.5" fill="none" stroke="#111" stroke-width="1.6" stroke-linejoin="round" stroke-linecap="round" />
<path d="M456.6,220 Q459.2,221 459,224.5 L459,243.4 Q459,248.5 455.8,250.7 L442.8,259.6 Q438.5,262 434.7,260.4 Q431.5,258.5 430.7,256.4 L428.2,250.7 Q426.5,247.5 423,245.5" fill="none" stroke="#111" stroke-width="1.6" stroke-linejoin="round" stroke-linecap="round" />
<path d="M453.5,225 Q456.4,225.4 456.2,228.5 L456.2,242.6 Q456,246.5 453.3,248.3 L442,256.4 Q438.5,258.4 435.5,257.2 Q433,255.8 432.3,254 L429.8,249 Q428.6,246.6 426.5,245" fill="none" stroke="#111" stroke-width="1.6" stroke-linejoin="round" stroke-linecap="round" />
<path d="M411.2,212.7 L366.7,244.2 Q362.7,246.7 362.3,252.3 L361.4,275 Q361.6,281.5 366.7,283.9 L378.9,289 Q383.9,290.6 384,285.5 L384.5,262.8 Q385.3,257.2 390.2,254 L434.2,224.4" fill="none" stroke="#111" stroke-width="1.6" stroke-linejoin="round" stroke-linecap="round" />
<path d="M414,215.4 L368.9,246.8 Q365.3,249.3 364.9,254.8 L364.3,275 Q364.4,280 368.5,282 L379.5,286.8" fill="none" stroke="#111" stroke-width="1.6" stroke-linejoin="round" stroke-linecap="round" />
<path d="M411.2,212.7 Q415.3,210.6 419.3,212.7 L433,219 Q436.8,221.3 434.2,224.4 M406.3,242.7 L404,243.4 Q400.5,244 399,239.5 Q398.6,237.5 402.3,235.6 L412.6,228.6 Q413.5,227.5 413.5,225.5 L413.7,217" fill="none" stroke="#111" stroke-width="1.6" stroke-linejoin="round" stroke-linecap="round" />
<path d="M412.6,215 Q416.5,213.8 421,215 L430.6,219.9 Q432.6,221.6 431.4,223.2 L406.6,240" fill="none" stroke="#111" stroke-width="1.6" stroke-linejoin="round" stroke-linecap="round" />
<path d="M400.5,243 Q402,245 405,244" fill="none" stroke="#111" stroke-width="1.6" stroke-linejoin="round" stroke-linecap="round" />
<path d="M364.70000000000005,235.3 L364.90000000000003,239.3 Q369.1,241.9 373.3,239.3 L373.5,235.3" fill="#fff" stroke="#111" stroke-width="1.6"/>
<ellipse cx="369.1" cy="235.3" rx="4.4" ry="2.9" fill="#fff" stroke="#111" stroke-width="1.5"/>
<path d="M382.6,222.4 L382.8,226.4 Q387,229.0 391.2,226.4 L391.4,222.4" fill="#fff" stroke="#111" stroke-width="1.6"/>
<ellipse cx="387" cy="222.4" rx="4.4" ry="2.9" fill="#fff" stroke="#111" stroke-width="1.5"/>
<path d="M397.1,251.5 L397.3,255.5 Q401.5,258.1 405.7,255.5 L405.9,251.5" fill="#fff" stroke="#111" stroke-width="1.6"/>
<ellipse cx="401.5" cy="251.5" rx="4.4" ry="2.9" fill="#fff" stroke="#111" stroke-width="1.5"/>
<ellipse cx="418.8" cy="240.6" rx="2.3" ry="1.5" transform="rotate(0 418.8 240.6)" fill="none" stroke="#111" stroke-width="1.5"/>
<path d="M420.8,152 L421,158.4 Q423.7,160.4 426.4,158.4 L426.6,152" fill="#fff" stroke="#111" stroke-width="1.6" stroke-linejoin="round" stroke-linecap="round" />
<path d="M419.4,148.5 L419.4,151 Q423.9,155 428.4,151 L428.4,148.5" fill="#fff" stroke="#111" stroke-width="1.7"/>
<ellipse cx="423.9" cy="148.4" rx="4.5" ry="2.6" fill="#fff" stroke="#111" stroke-width="1.7"/>
<ellipse cx="421.9" cy="188.9" rx="5" ry="4" fill="#111"/>
<path d="M210.5,562 L213.4,721 L225,726 M210.5,562 L226,568.7" fill="none" stroke="#222" stroke-width="0.8" />
<path d="M74.9,677.7 L211.8,734" fill="none" stroke="#222" stroke-width="0.9" />
<path d="M366.7,383 L363.3,447 L358.5,511" fill="none" stroke="#111" stroke-width="1.6" stroke-linejoin="round" stroke-linecap="round" />
<path d="M422.9,374 L418.2,487" fill="none" stroke="#111" stroke-width="1.6" stroke-linejoin="round" stroke-linecap="round" />
<path d="M370.6,452 L369.5,503.3 Q372,511 381,514.5 Q393,517.5 404,514 Q414,510 416.6,501.7 L418.2,487" fill="none" stroke="#111" stroke-width="1.6" stroke-linejoin="round" stroke-linecap="round" />
<path d="M364.3,440 L364.6,505 M368.7,470 L368,506" fill="none" stroke="#111" stroke-width="1.6" stroke-linejoin="round" stroke-linecap="round" />
<path d="M402,331.6 Q404,328.4 408,327.2 Q411.5,325.6 415,325.9 Q418.5,326.5 420.3,329.8 Q421.3,332.5 420.7,335 L417.7,339 L410,337 Z" fill="#fff" stroke="#111" stroke-width="1.7" stroke-linejoin="round"/>
<path d="M413.6,326.4 Q418,326.6 419.6,330 Q420.4,333.4 419.4,335.6 L417.2,338.4" fill="none" stroke="#111" stroke-width="3.2"/>
<path d="M402,331.6 L406.4,333.8 L408.2,328.6 Z" fill="#111"/>
<path d="M410.5,327 Q414.5,331 413,337" fill="none" stroke="#111" stroke-width="1.2"/>
<path d="M356.3,351.4 L392,327.1 L430,346.6 L430,363.6 L400,389.5 Q395,393.5 390,391.5 L355.5,374.9 Z" fill="#fff" stroke="#111" stroke-width="1.8" stroke-linejoin="round" stroke-linecap="round" />
<path d="M356.3,351.4 L391,371 Q395.2,373 399,370.5 L430,346.6" fill="none" stroke="#111" stroke-width="1.6" stroke-linejoin="round" stroke-linecap="round" />
<ellipse cx="362" cy="352.6" rx="2.4" ry="1.6" transform="rotate(0 362 352.6)" fill="none" stroke="#111" stroke-width="1.5"/>
<ellipse cx="379.8" cy="339.6" rx="2.4" ry="1.6" transform="rotate(0 379.8 339.6)" fill="none" stroke="#111" stroke-width="1.5"/>
<ellipse cx="412.2" cy="354.7" rx="2.4" ry="1.6" transform="rotate(0 412.2 354.7)" fill="none" stroke="#111" stroke-width="1.5"/>
<ellipse cx="394.4" cy="367.6" rx="2.4" ry="1.6" transform="rotate(0 394.4 367.6)" fill="none" stroke="#111" stroke-width="1.5"/>
<ellipse cx="364.8" cy="364.7" rx="1.9" ry="2.5" transform="rotate(-20 364.8 364.7)" fill="none" stroke="#111" stroke-width="1.5"/>
<ellipse cx="373.3" cy="370.5" rx="1.9" ry="2.5" transform="rotate(-20 373.3 370.5)" fill="none" stroke="#111" stroke-width="1.5"/>
<ellipse cx="381.9" cy="372.8" rx="1.9" ry="2.5" transform="rotate(-20 381.9 372.8)" fill="none" stroke="#111" stroke-width="1.5"/>
<ellipse cx="364.4" cy="374.6" rx="1.9" ry="2.5" transform="rotate(-20 364.4 374.6)" fill="none" stroke="#111" stroke-width="1.5"/>
<ellipse cx="372.8" cy="377" rx="1.9" ry="2.5" transform="rotate(-20 372.8 377)" fill="none" stroke="#111" stroke-width="1.5"/>
<ellipse cx="381.4" cy="382.5" rx="1.9" ry="2.5" transform="rotate(-20 381.4 382.5)" fill="none" stroke="#111" stroke-width="1.5"/>
<ellipse cx="403.6" cy="372.8" rx="1.5" ry="2.4" transform="rotate(25 403.6 372.8)" fill="#111"/>
<ellipse cx="420.3" cy="361.6" rx="1.2" ry="1.9" transform="rotate(25 420.3 361.6)" fill="#111"/>
<ellipse cx="425.5" cy="363.2" rx="1.2" ry="1.9" transform="rotate(25 425.5 363.2)" fill="#111"/>
<path d="M365.5,240 L363,350 M387,227.5 L381,338 M401,256 L395.5,366 M423.5,160 L413.7,352.5" fill="none" stroke="#222" stroke-width="0.8" />
<path d="M369.5,386 L369.3,390.6 L374.6,393.4 L381,391.2 L381.1,387.5" fill="#fff" stroke="#111" stroke-width="1.8" stroke-linejoin="round"/>
<path d="M369.5,387.6 L374.8,389.8 L381,388 M374.8,389.8 L374.6,393.4" fill="none" stroke="#111" stroke-width="1.3"/>
<path d="M370.6,394.9 L380.4,394.9" fill="none" stroke="#111" stroke-width="4.2"/>
<path d="M370.6,397 L370.6,412 Q375.2,413.8 379.9,412 L379.9,397" fill="#fff" stroke="#111" stroke-width="1.8"/>
<path d="M441.2,326.3 L449,323.3 Q453,322.4 456,324.6 Q458.4,327 457.8,329.8 Q457.4,332.6 455.2,336 L448.2,340.3 Z" fill="#fff" stroke="#111" stroke-width="1.7" stroke-linejoin="round"/>
<path d="M450.5,323.2 Q455.4,322.6 457.4,326.4 Q458.4,330.5 455.6,334.6" fill="none" stroke="#111" stroke-width="3"/>
<path d="M447,324.4 Q451.4,328 450.6,337.5" fill="none" stroke="#111" stroke-width="1.2"/>
<path d="M431.2,332.6 L436,329 L443.8,329.4 L448.2,336.8 L447.3,342.9 L442.1,346.8 L436,347.5 Z" fill="#fff" stroke="#111" stroke-width="1.8" stroke-linejoin="round"/>
<path d="M440.6,330 L445.4,337.6 L444.6,343.6" fill="none" stroke="#111" stroke-width="1.2"/>
<ellipse cx="436.4" cy="338.7" rx="5.9" ry="8.1" transform="rotate(-15 436.4 338.7)" fill="#fff" stroke="#111" stroke-width="1.8"/>
<path d="M432.5,342.9 L436.8,339.8" fill="none" stroke="#222" stroke-width="1.0" />
<path d="M379,553 L375,612.5 M399.8,554 L396.2,615" fill="none" stroke="#111" stroke-width="1.7" stroke-linejoin="round" stroke-linecap="round" />
<path d="M376,549 Q381,552.6 393,554 Q404,553 412.5,543" fill="none" stroke="#111" stroke-width="1.6" stroke-linejoin="round" stroke-linecap="round" />
<path d="M380.9,546.3 Q386,549.6 393,550 Q402,549 407.7,545.5" fill="none" stroke="#111" stroke-width="1.6" stroke-linejoin="round" stroke-linecap="round" />
<path d="M359,511.5 L366,509.5" fill="none" stroke="#111" stroke-width="1.6" stroke-linejoin="round" stroke-linecap="round" />
<path d="M382.5,521.2 Q392,521 401.2,519.9 Q410,518 415.8,513.9 Q421,509 422.3,505 Q424,500 424,495.2 L422.6,528.5 Q421.5,534 417.4,537.4 Q413,540.5 408.5,541.5 Q397,544 385,543.9" fill="none" stroke="#111" stroke-width="1.7" stroke-linejoin="round" stroke-linecap="round" />
<path d="M382.5,521.2 Q386,527 385.7,534 Q385,540 382.5,544" fill="none" stroke="#111" stroke-width="1.6" stroke-linejoin="round" stroke-linecap="round" />
<path d="M417.4,488.7 Q420,484 424,487 L424,495.2" fill="none" stroke="#111" stroke-width="1.6" stroke-linejoin="round" stroke-linecap="round" />
<ellipse cx="428.3" cy="489.6" rx="5.2" ry="9.2" transform="rotate(-22 428.3 489.6)" fill="#fff" stroke="#111" stroke-width="1.6"/>
<path d="M419.2,483.8 Q422,481 425.5,482.2 M420,485.5 L424,491 L424,501.5" fill="none" stroke="#111" stroke-width="1.6" stroke-linejoin="round" stroke-linecap="round" />
<path d="M358.5,512.5 Q364,510 372,513.5 Q383,520 385.5,531 Q386.5,541 380,546 L366,554 Q360.5,558 359.8,563 L359.3,581.5" fill="none" stroke="#111" stroke-width="1.7" stroke-linejoin="round" stroke-linecap="round" />
<path d="M357.3,512.8 L339.6,581.6 L354.8,587.8 Q357,588.3 358.8,587 L367.9,580.3 L368.3,553.5" fill="none" stroke="#111" stroke-width="1.7" stroke-linejoin="round" stroke-linecap="round" />
<path d="M362.5,558.5 L368.2,553.6" fill="none" stroke="#111" stroke-width="1.6" stroke-linejoin="round" stroke-linecap="round" />
<ellipse cx="361.7" cy="576" rx="1.9" ry="3" transform="rotate(10 361.7 576)" fill="none" stroke="#111" stroke-width="1.5"/>
<path d="M343.6,563.5 L343.2,579.7 M348.3,563.5 L348,579.7" stroke="#111" stroke-width="2.6" fill="none"/>
<ellipse cx="337.3" cy="536" rx="3.2" ry="2.4" transform="rotate(-30 337.3 536)" fill="none" stroke="#111" stroke-width="2"/>
<path d="M341.8,522.5 L343.4,532" stroke="#111" stroke-width="2.2" fill="none"/>
<path d="M350,539.5 Q355.5,534.5 358.3,544.5 M351.5,541.5 Q354.5,539 356,544" fill="none" stroke="#111" stroke-width="1.6" stroke-linejoin="round" stroke-linecap="round" />
<path d="M349.2,548 Q354,551.4 358.5,549.8" fill="none" stroke="#111" stroke-width="1.6" stroke-linejoin="round" stroke-linecap="round" />
<g transform="translate(9,-3.2)"><ellipse cx="380.6" cy="635.6" rx="18.5" ry="25.1" transform="rotate(-20 380.6 635.6)" fill="#fff" stroke="#111" stroke-width="1.8"/></g>
<ellipse cx="380.6" cy="635.6" rx="18.5" ry="25.1" transform="rotate(-20 380.6 635.6)" fill="#fff" stroke="#111" stroke-width="1.8"/>
<ellipse cx="379.6" cy="637.3" rx="11.8" ry="15.2" transform="rotate(-20 379.6 637.3)" fill="none" stroke="#111" stroke-width="2.1"/>
<ellipse cx="380" cy="637.3" rx="9.9" ry="13.2" transform="rotate(-20 380 637.3)" fill="none" stroke="#111" stroke-width="1.1"/>
<ellipse cx="380.4" cy="637" rx="8.1" ry="11.4" transform="rotate(-20 380.4 637)" fill="none" stroke="#111" stroke-width="2.2"/>
<path d="M384.5,629 Q389,637.5 385.2,646" fill="none" stroke="#111" stroke-width="1.1"/>
<path d="M378,570 L375.3,610.2 L384.8,616.3 L395.5,614.1 L398.8,570 Z" fill="#fff" stroke="none"/>
<path d="M378,570 L375.3,610.2 M398.8,570 L395.5,614.1" fill="none" stroke="#111" stroke-width="1.7" stroke-linejoin="round" stroke-linecap="round" />
<path d="M375.3,610.4 L378.6,610.8 L379.2,613 L383.2,615.2 L384.4,613 L384.8,616.3 Q390,618.3 395.5,614.1" fill="none" stroke="#111" stroke-width="1.6" stroke-linejoin="round" stroke-linecap="round" />
<path d="M375.3,411 Q375,420 373.5,428 Q371,441 367,455 L361.5,480 L356.3,500 L344.5,540 L337,570 L328.6,600 Q322,617 307,626 Q297,631 287,632 L264.6,632 Q250,629 234.7,623 L209.8,610.3 Q199,604 196,597 Q194.5,591 201.1,587.3 L214,580.5 L227,574" fill="none" stroke="#111" stroke-width="10.7" stroke-linecap="butt" stroke-linejoin="round"/>
<path d="M375.3,411 Q375,420 373.5,428 Q371,441 367,455 L361.5,480 L356.3,500 L344.5,540 L337,570 L328.6,600 Q322,617 307,626 Q297,631 287,632 L264.6,632 Q250,629 234.7,623 L209.8,610.3 Q199,604 196,597 Q194.5,591 201.1,587.3 L214,580.5 L227,574" fill="none" stroke="#fff" stroke-width="6.5" stroke-linecap="butt" stroke-linejoin="round"/>
<path d="M291.7,515 L290.5,542 Q287,560 282.5,576 L269.6,622 L239,688.7 Q230,708 221.5,721 Q210,736 195.5,742 Q178,749 159.9,750 Q143,749.5 127.4,745.5 Q110,740.5 97.4,734 Q87,728.8 87.3,724.6 Q88.3,721 97,717.6 L109.2,711.6 L122,705" fill="none" stroke="#111" stroke-width="10.7" stroke-linecap="butt" stroke-linejoin="round"/>
<path d="M291.7,515 L290.5,542 Q287,560 282.5,576 L269.6,622 L239,688.7 Q230,708 221.5,721 Q210,736 195.5,742 Q178,749 159.9,750 Q143,749.5 127.4,745.5 Q110,740.5 97.4,734 Q87,728.8 87.3,724.6 Q88.3,721 97,717.6 L109.2,711.6 L122,705" fill="none" stroke="#fff" stroke-width="6.5" stroke-linecap="butt" stroke-linejoin="round"/>
<path d="M294.3,450 L293.6,467 M292.5,487.3 L291.4,499.6" fill="none" stroke="#222" stroke-width="0.9" />
<ellipse cx="294.8" cy="445.2" rx="5.4" ry="3.2" fill="#fff" stroke="#111" stroke-width="3.2"/>
<path d="M289.2,468.8 L289.2,472.5 M297.6,468.8 L297.6,472.5" fill="none" stroke="#111" stroke-width="1.6" stroke-linejoin="round" stroke-linecap="round" />
<ellipse cx="293.4" cy="468.8" rx="4.2" ry="1.8" transform="rotate(0 293.4 468.8)" fill="#fff" stroke="#111" stroke-width="1.6"/>
<path d="M286.6,474.5 Q293,471.5 299.8,474.5 L299.8,480.5 Q293,484 286.6,480.5 Z" fill="#fff" stroke="#111" stroke-width="2.2"/>
<path d="M287,477.6 Q293,480.6 299.6,477.6" fill="none" stroke="#111" stroke-width="2.2"/>
<path d="M288.2,482 L288.4,485.3 Q292.6,487.8 296.8,485.3 L297,482" fill="none" stroke="#111" stroke-width="1.7" stroke-linejoin="round" stroke-linecap="round" />
<path d="M285,503 L291.5,500.3 L298.2,503 L297.6,510.5 L291.4,513.6 L284.6,510.5 Z" fill="#fff" stroke="#111" stroke-width="2.2"/>
<path d="M286.5,505.5 Q291.5,508.5 297,505.5 M287,512 L287.3,516 M295.8,512 L295.6,516" fill="none" stroke="#111" stroke-width="1.8"/>
<ellipse cx="291.6" cy="503.7" rx="3.6" ry="1.5" transform="rotate(0 291.6 503.7)" fill="none" stroke="#111" stroke-width="1.5"/>
<path d="M212.8,579.5 L216.6,586.3" fill="none" stroke="#111" stroke-width="1.6" stroke-linejoin="round" stroke-linecap="round" />
<path d="M224.4,566 L228.6,562.6 L232.4,563.8 L233,570 L229,573.4 L225,572.3 Z" fill="#fff" stroke="#111" stroke-width="1.8"/>
<path d="M227.2,564.5 L227.8,572.5" fill="none" stroke="#111" stroke-width="1.2"/>
<path d="M231,565 Q238,565 241,570 L241.5,579.5 Q236,581.5 231.5,579 Q229,576 226.5,575" fill="#fff" stroke="#111" stroke-width="1.8"/>
<ellipse cx="239.6" cy="574.6" rx="2.6" ry="5.2" transform="rotate(-12 239.6 574.6)" fill="#fff" stroke="#111" stroke-width="2.4"/>
<path d="M240,570.6 L245,571.4 M240.6,579.4 L245.3,579.6" stroke="#111" stroke-width="1.6" fill="none"/>
<ellipse cx="245.3" cy="575.5" rx="1.9" ry="4.1" transform="rotate(-8 245.3 575.5)" fill="#fff" stroke="#111" stroke-width="1.6"/>
<path d="M58.3,669 L72.3,672.4 M57.4,677.9 L71.4,681.2" stroke="#111" stroke-width="1.7" fill="none"/>
<ellipse cx="72.2" cy="676.8" rx="1.9" ry="4.4" transform="rotate(-12 72.2 676.8)" fill="#fff" stroke="#111" stroke-width="1.5"/>
<path d="M52.6,668.4 L55.4,665 L59,665.6 L59.8,669.6 L59.6,675.8 L56.6,678.6 L53,677.4 L52.4,672.8 Z" fill="#fff" stroke="#111" stroke-width="1.8" stroke-linejoin="round"/>
<path d="M55.4,665 L56,669.6 L56.6,678.6 M56,669.6 L59.8,669.6" stroke="#111" stroke-width="1.2" fill="none"/>
<ellipse cx="101" cy="688.5" rx="2.9" ry="5.9" transform="rotate(18 101 688.5)" fill="#fff" stroke="#111" stroke-width="2.8"/>
<ellipse cx="155.9" cy="711.1" rx="2.9" ry="5.9" transform="rotate(18 155.9 711.1)" fill="#fff" stroke="#111" stroke-width="2.8"/>
<path d="M107.3,708.6 L111.3,715.6" fill="none" stroke="#111" stroke-width="1.6" stroke-linejoin="round" stroke-linecap="round" />
<path d="M123,696.5 L118.5,700.5 L122,707.5 L127,705.5" fill="#fff" stroke="#111" stroke-width="1.7"/>
<ellipse cx="129.4" cy="699.6" rx="6.6" ry="7.8" transform="rotate(10 129.4 699.6)" fill="#fff" stroke="#111" stroke-width="1.8"/>
<path d="M130.5,693.5 Q127,699.5 131.2,706.5" fill="none" stroke="#111" stroke-width="1.6" stroke-linejoin="round" stroke-linecap="round" />
<path d="M366.5,559.4 L605,658.2 M366.5,578.9 L605,675.5" fill="none" stroke="#222" stroke-width="0.9" />
<path d="M486.3,609.6 L411.8,664.7 L468.5,689 M486.3,628 L411.8,682.5 L468.5,706.7" fill="none" stroke="#222" stroke-width="0.9" />
<path d="M403.7,619.3 L457,580.5 M465,574 L480,562.5" fill="none" stroke="#222" stroke-width="0.9" />
<path d="M506,522 L515,516 M521,512 L532.4,505" fill="none" stroke="#222" stroke-width="0.9" />
<path d="M640.5,673 L682,689.5 M640.5,692 L682,708" fill="none" stroke="#222" stroke-width="0.9" />
<path d="M432,483 L505,431" fill="none" stroke="#222" stroke-width="0.9" />
<path d="M515,366.6 L569.5,386.8 M603.1,393.5 L631,404.5 M602.1,412 L631,422.5" fill="none" stroke="#222" stroke-width="0.9" />
<path d="M559.7,354.5 L574.7,361" fill="none" stroke="#222" stroke-width="0.9" />
<path d="M574.7,375.7 Q571,379 569.9,382.5 L569.9,411.3 Q570.5,413.3 572.7,414 L587.7,420.2 Q590.5,420.8 592.5,419.5 L602.1,412 L603.1,387.3" fill="#fff" stroke="#111" stroke-width="1.8" stroke-linejoin="round" stroke-linecap="round" />
<path d="M593.9,390.8 Q591.8,393 591.8,396.2 L591.8,418.6" fill="none" stroke="#111" stroke-width="1.6" stroke-linejoin="round" stroke-linecap="round" />
<ellipse cx="595.3" cy="407.3" rx="1.8" ry="3.2" transform="rotate(15 595.3 407.3)" fill="none" stroke="#111" stroke-width="1.5"/>
<path d="M576.2,395 L576,412.5 M581.6,395 L581.4,413.6" stroke="#111" stroke-width="2.4" fill="none"/>
<path d="M574.7,360.6 Q576,355 580.2,352.4 L592.5,343.5 Q598,341.6 603.5,342.8 Q610,344.8 613.1,349.7 Q618,355 618.6,360.6 Q619.4,366 618.6,370.2 Q616,376.5 613.1,379.8 L603.5,386.6 L596,391 Q580,392 574.7,375.7 Z" fill="#fff" stroke="#111" stroke-width="1.8"/>
<ellipse cx="589.1" cy="370.9" rx="14.3" ry="17.2" transform="rotate(-14 589.1 370.9)" fill="#fff" stroke="#111" stroke-width="1.8"/>
<ellipse cx="589.6" cy="371" rx="12.2" ry="15" transform="rotate(-14 589.6 371)" fill="none" stroke="#111" stroke-width="2.2"/>
<ellipse cx="590.3" cy="371" rx="10" ry="12.8" transform="rotate(-14 590.3 371)" fill="none" stroke="#111" stroke-width="2.0"/>
<circle cx="548.8" cy="350.6" r="3.3" fill="#fff" stroke="#111" stroke-width="1.8"/>
<ellipse cx="553" cy="352.4" rx="1.9" ry="3.5" transform="rotate(-18 553 352.4)" fill="#fff" stroke="#111" stroke-width="2.4"/>
<ellipse cx="556.8" cy="353.9" rx="1.7" ry="2.6" transform="rotate(-18 556.8 353.9)" fill="#fff" stroke="#111" stroke-width="1.7"/>
<g transform="translate(633,339.4) rotate(-38)"><rect x="-3" y="-2.7" width="6.6" height="5.4" rx="1.6" fill="#fff" stroke="#111" stroke-width="2"/><ellipse cx="-2.6" cy="0" rx="1.5" ry="2.7" fill="#fff" stroke="#111" stroke-width="1.9"/><path d="M0.6,-2.7 L0.6,2.7" stroke="#111" stroke-width="1.4"/></g>
<g transform="translate(461.6,578) rotate(-38)"><rect x="-3" y="-2.7" width="6.6" height="5.4" rx="1.6" fill="#fff" stroke="#111" stroke-width="2"/><ellipse cx="-2.6" cy="0" rx="1.5" ry="2.7" fill="#fff" stroke="#111" stroke-width="1.9"/><path d="M0.6,-2.7 L0.6,2.7" stroke="#111" stroke-width="1.4"/></g>
<path d="M629.5,343 L615.5,352.2 M597,364.6 L480,448.5" fill="none" stroke="#222" stroke-width="0.9" />
<g transform="translate(631,405.6) rotate(21.90)" stroke="#111" stroke-width="1.7" fill="#fff" stroke-linejoin="round"><path d="M0,-3.3 L35.011234536912085,-3.3 L35.011234536912085,3.3 L0,3.3 Q-2.2176,0 0,-3.3 Z"/><path d="M35.011234536912085,-5.5 L44.511234536912085,-5.5 L44.511234536912085,5.5 L35.011234536912085,5.5 Q32.008234536912084,0 35.011234536912085,-5.5 Z"/><ellipse cx="44.511234536912085" cy="0" rx="2.31" ry="5.5"/><ellipse cx="44.81123453691208" cy="0.2" rx="1.155" ry="3.0250000000000004" stroke-width="1.2"/></g>
<g transform="translate(631,423.4) rotate(21.90)" stroke="#111" stroke-width="1.7" fill="#fff" stroke-linejoin="round"><path d="M0,-3.3 L35.011234536912106,-3.3 L35.011234536912106,3.3 L0,3.3 Q-2.2176,0 0,-3.3 Z"/><path d="M35.011234536912106,-5.5 L44.511234536912106,-5.5 L44.511234536912106,5.5 L35.011234536912106,5.5 Q32.008234536912106,0 35.011234536912106,-5.5 Z"/><ellipse cx="44.511234536912106" cy="0" rx="2.31" ry="5.5"/><ellipse cx="44.8112345369121" cy="0.2" rx="1.155" ry="3.0250000000000004" stroke-width="1.2"/></g>
<g transform="translate(682,691) rotate(21.02)" stroke="#111" stroke-width="1.7" fill="#fff" stroke-linejoin="round"><path d="M0,-3.4 L44.136617757690686,-3.4 L44.136617757690686,3.4 L0,3.4 Q-2.2848,0 0,-3.4 Z"/><path d="M44.136617757690686,-5.7 L54.636617757690686,-5.7 L54.636617757690686,5.7 L44.136617757690686,5.7 Q41.024417757690685,0 44.136617757690686,-5.7 Z"/><ellipse cx="54.636617757690686" cy="0" rx="2.394" ry="5.7"/><ellipse cx="54.936617757690684" cy="0.2" rx="1.197" ry="3.1350000000000002" stroke-width="1.2"/></g>
<g transform="translate(682,709.5) rotate(21.02)" stroke="#111" stroke-width="1.7" fill="#fff" stroke-linejoin="round"><path d="M0,-3.4 L44.136617757690686,-3.4 L44.136617757690686,3.4 L0,3.4 Q-2.2848,0 0,-3.4 Z"/><path d="M44.136617757690686,-5.7 L54.636617757690686,-5.7 L54.636617757690686,5.7 L44.136617757690686,5.7 Q41.024417757690685,0 44.136617757690686,-5.7 Z"/><ellipse cx="54.636617757690686" cy="0" rx="2.394" ry="5.7"/><ellipse cx="54.936617757690684" cy="0.2" rx="1.197" ry="3.1350000000000002" stroke-width="1.2"/></g>
<g transform="translate(469,688.9) rotate(22.40)" stroke="#111" stroke-width="1.7" fill="#fff" stroke-linejoin="round"><path d="M0,-3.3 L34.346476748440786,-3.3 L34.346476748440786,3.3 L0,3.3 Q-2.2176,0 0,-3.3 Z"/><path d="M34.346476748440786,-5.7 L44.346476748440786,-5.7 L44.346476748440786,5.7 L34.346476748440786,5.7 Q31.234276748440784,0 34.346476748440786,-5.7 Z"/><ellipse cx="44.346476748440786" cy="0" rx="2.394" ry="5.7"/><ellipse cx="44.64647674844078" cy="0.2" rx="1.197" ry="3.1350000000000002" stroke-width="1.2"/></g>
<g transform="translate(469,707.3) rotate(22.40)" stroke="#111" stroke-width="1.7" fill="#fff" stroke-linejoin="round"><path d="M0,-3.3 L34.34647674844083,-3.3 L34.34647674844083,3.3 L0,3.3 Q-2.2176,0 0,-3.3 Z"/><path d="M34.34647674844083,-5.7 L44.34647674844083,-5.7 L44.34647674844083,5.7 L34.34647674844083,5.7 Q31.234276748440827,0 34.34647674844083,-5.7 Z"/><ellipse cx="44.34647674844083" cy="0" rx="2.394" ry="5.7"/><ellipse cx="44.646476748440826" cy="0.2" rx="1.197" ry="3.1350000000000002" stroke-width="1.2"/></g>
<path d="M514.9,409 L521.2,403.7 Q524.5,402.6 529.9,405 Q534.9,408.5 537.2,414 Q538.6,419.5 537.6,422.5 L536.1,424.6 L529.2,428.9 L520,432 Z" fill="#fff" stroke="none"/>
<path d="M514.9,409 L521.2,403.7 M536.1,424.6 L529.2,428.9" fill="none" stroke="#111" stroke-width="1.8"/>
<path d="M521.2,403.7 Q524.5,402.6 529.9,405 Q534.9,408.5 537.2,414 Q538.6,419.5 537.6,422.5 L536.1,424.6" fill="none" stroke="#111" stroke-width="2.6"/>
<ellipse cx="516.6" cy="423.2" rx="11.4" ry="15" transform="rotate(-24 516.6 423.2)" fill="#fff" stroke="#111" stroke-width="1.5"/>
<ellipse cx="515.5" cy="423.7" rx="11.4" ry="15" transform="rotate(-24 515.5 423.7)" fill="#fff" stroke="#111" stroke-width="1.9"/>
<ellipse cx="515.9" cy="423" rx="7.7" ry="10.5" transform="rotate(-24 515.9 423)" fill="none" stroke="#111" stroke-width="1.9"/>
<path d="M495,438 L521.2,419.6" fill="none" stroke="#222" stroke-width="1.0" />
<path d="M498.4,355 L510.5,359.6 Q514.2,361.8 512.6,366.6 Q511.2,369.8 508.8,369.3 L496.6,364.6 Z" fill="#fff" stroke="#111" stroke-width="1.7"/>
<ellipse cx="497.4" cy="359.8" rx="3" ry="5" transform="rotate(-20 497.4 359.8)" fill="#fff" stroke="#111" stroke-width="1.6"/>
<path d="M483,549.8 L509.8,531.9 L496.9,521.9 L494.9,518.4 L499.9,518.9 L513.8,529.4 L519.8,532.9 Q523.8,537 523.8,542 L521.8,545.8 L494.9,566.8 Z" fill="#fff" stroke="none"/><path d="M483,549.8 L509.8,531.9 M494.9,566.8 L521.8,545.8 M494.9,518.4 L499.9,518.9 L513.8,529.4 L519.8,532.9 Q523,536.5 523.8,541 Q523.8,544 521.8,545.8 M496.9,521.9 L509.8,531.9" fill="none" stroke="#111" stroke-width="1.8" stroke-linejoin="round" stroke-linecap="round"/>
<path d="M494.9,518.4 Q491,519 489.9,520.9 Q488.8,522.6 489.4,523.9 Q490.5,525.6 492.9,526.4 L497.9,528.4 Q500,529.8 499.9,531.9 Q499.6,534 497.9,534.9 Q495.5,535.4 492.9,532.9 Q491,532 489.9,532.9 Q488.8,533.8 489.4,534.9 Q490,536.8 491.4,537.9 L494.9,540.4" fill="#fff" stroke="#111" stroke-width="1.8" stroke-linejoin="round" stroke-linecap="round"/>
<ellipse cx="487.4" cy="559.3" rx="7.6" ry="10.2" transform="rotate(-30 487.4 559.3)" fill="#fff" stroke="#111" stroke-width="2.8"/>
<ellipse cx="487.2" cy="559.8" rx="4.4" ry="6.4" transform="rotate(-30 487.2 559.8)" fill="none" stroke="#111" stroke-width="1.6"/>
<g transform="translate(541.4,497.6) rotate(142)"><path d="M2,-2.1 L11,-2.1 L11.8,0 L11,2.1 L2,2.1 Z" fill="#fff" stroke="#111" stroke-width="1.5"/><path d="M-1.5,-3.6 L2.4,-3.6 L2.4,3.6 L-1.5,3.6 Q-4,0 -1.5,-3.6 Z" fill="#fff" stroke="#111" stroke-width="1.6"/></g>
<ellipse cx="517.8" cy="515" rx="2.2" ry="2.6" transform="rotate(-20 517.8 515)" fill="#fff" stroke="#111" stroke-width="3.6"/>
<path d="M586.4,574.6 Q586.6,571 588.8,569.7 Q591.5,567.6 594.5,567.8 Q598.5,568.8 601,571.4 Q604,574.5 604.2,577.8 Q604.4,580.6 603.4,582.7 L601,586.8 L624.5,666.2 Q625.5,670 626.9,671.3 L631,672 L639.9,665.5 L643.9,668.6 L644.4,691.3 Q644.4,694 643.1,695.4 L629.3,705 Q627.5,706.6 625.3,706 L607.4,697.8 Q605.2,696.2 605,693 L605,657.3 Q605,654 604.2,650.8 L588,597.3 Q587,594 587.2,591.6 Q588.8,589 588.8,586.8 Q588.4,584 586.4,579.5 Z" fill="#fff" stroke="#111" stroke-width="1.7" stroke-linejoin="round"/>
<path d="M599.3,589.2 L622.8,667 Q623.8,670.4 625.3,672" fill="none" stroke="#111" stroke-width="1.6" stroke-linejoin="round" stroke-linecap="round" />
<path d="M624.5,666.2 L628.5,663 L639,663.5 L643.5,667.5" fill="none" stroke="#111" stroke-width="1.6" stroke-linejoin="round" stroke-linecap="round" />
<path d="M631,672 L631.2,664.5" fill="none" stroke="#111" stroke-width="1.6" stroke-linejoin="round" stroke-linecap="round" />
<ellipse cx="593.6" cy="577.5" rx="4.1" ry="5.4" transform="rotate(-25 593.6 577.5)" fill="none" stroke="#111" stroke-width="1.6"/>
<ellipse cx="594" cy="577.3" rx="2.7" ry="3.9" transform="rotate(-25 594 577.3)" fill="none" stroke="#111" stroke-width="1.5"/>
<ellipse cx="594.5" cy="596.5" rx="3.5" ry="4.5" transform="rotate(-25 594.5 596.5)" fill="none" stroke="#111" stroke-width="1.6"/>
<ellipse cx="637.6" cy="672.9" rx="2.2" ry="3.9" transform="rotate(20 637.6 672.9)" fill="none" stroke="#111" stroke-width="1.5"/>
<ellipse cx="637.6" cy="691.4" rx="2.2" ry="3.9" transform="rotate(20 637.6 691.4)" fill="none" stroke="#111" stroke-width="1.5"/>
<path d="M370.9,412.2 Q375.3,414.2 379.8,412.2" fill="none" stroke="#111" stroke-width="1.6"/>
</svg>
</body></html>
